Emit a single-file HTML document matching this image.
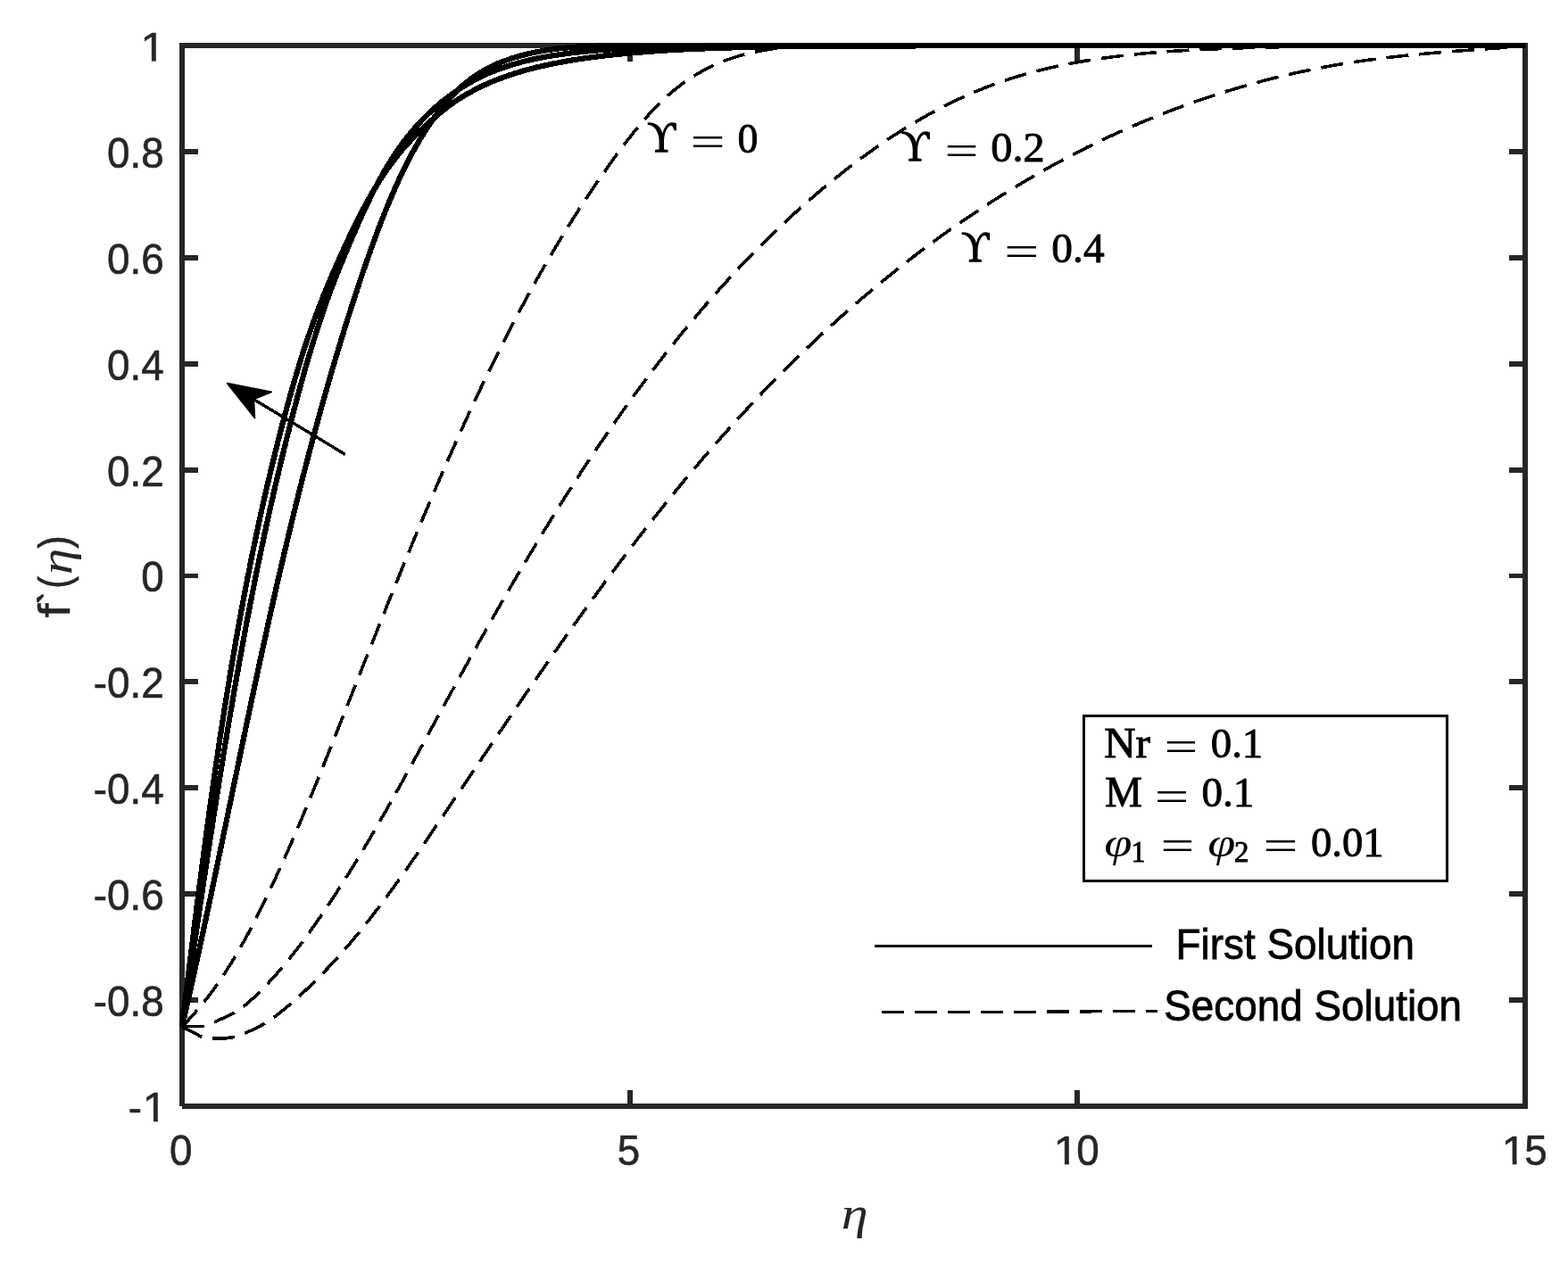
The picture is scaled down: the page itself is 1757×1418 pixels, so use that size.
<!DOCTYPE html>
<html lang="en"><head><meta charset="utf-8"><title>f'(η) versus η</title>
<style>html,body{margin:0;padding:0;background:#fff}body{width:1757px;height:1418px;overflow:hidden}svg{display:block}.tk{font-family:"Liberation Sans",sans-serif;font-size:45.83px;fill:#262626;stroke:#262626;stroke-width:.6px}.lg{font-family:"Liberation Sans",sans-serif;font-size:45.83px;fill:#000;stroke:#000;stroke-width:.8px}.tx{font-family:"Liberation Serif",serif;font-size:45px;fill:#000}.it{font-style:italic}</style></head><body>
<svg width="1757" height="1418" viewBox="0 0 1757 1418" role="img" aria-label="Plot of f prime of eta versus eta for first and second solutions">
<rect x="0" y="0" width="1757" height="1418" fill="#fff"/>
<g fill="#262626" shape-rendering="crispEdges">
<rect x="201" y="48" width="6" height="1192"/>
<rect x="1706" y="48" width="6" height="1195"/>
<rect x="201" y="48" width="1511" height="6"/>
<rect x="204" y="1237" width="1508" height="6"/>
<rect x="204" y="167" width="18" height="6"/>
<rect x="1691" y="167" width="18" height="6"/>
<rect x="204" y="286" width="18" height="6"/>
<rect x="1691" y="286" width="18" height="6"/>
<rect x="204" y="405" width="18" height="6"/>
<rect x="1691" y="405" width="18" height="6"/>
<rect x="204" y="524" width="18" height="6"/>
<rect x="1691" y="524" width="18" height="6"/>
<rect x="204" y="643" width="18" height="5"/>
<rect x="1691" y="643" width="18" height="5"/>
<rect x="204" y="761" width="18" height="6"/>
<rect x="1691" y="761" width="18" height="6"/>
<rect x="204" y="880" width="18" height="6"/>
<rect x="1691" y="880" width="18" height="6"/>
<rect x="204" y="999" width="18" height="6"/>
<rect x="1691" y="999" width="18" height="6"/>
<rect x="204" y="1118" width="18" height="6"/>
<rect x="1691" y="1118" width="18" height="6"/>
<rect x="703" y="51" width="6" height="18"/>
<rect x="703" y="1222" width="6" height="18"/>
<rect x="1204" y="51" width="6" height="18"/>
<rect x="1204" y="1222" width="6" height="18"/>
</g>
<g fill="none" stroke="#000" stroke-linejoin="round" shape-rendering="crispEdges">
<path stroke-width="3.6" stroke-dasharray="25 12" d="M204.0 1150.8L205.4 1149.4L206.8 1147.9L208.2 1146.5L209.6 1145.0L211.0 1143.6L212.3 1142.1L213.7 1140.6L215.0 1139.1L216.4 1137.7L217.7 1136.2L219.0 1134.7L220.3 1133.1L221.6 1131.6L222.9 1130.1L224.2 1128.6L225.4 1127.0L226.7 1125.5L227.9 1123.9L229.2 1122.4L230.4 1120.8L231.7 1119.2L232.9 1117.7L234.1 1116.1L235.3 1114.5L236.5 1112.9L237.7 1111.3L238.9 1109.7L240.0 1108.1L241.2 1106.5L242.3 1104.8L243.5 1103.2L244.6 1101.6L245.8 1099.9L246.9 1098.3L248.0 1096.6L249.1 1095.0L250.2 1093.3L251.3 1091.7L252.4 1090.0L253.5 1088.3L254.6 1086.6L255.7 1084.9L256.7 1083.3L257.8 1081.6L258.9 1079.9L259.9 1078.2L260.9 1076.5L262.0 1074.7L263.0 1073.0L264.0 1071.3L265.1 1069.6L266.1 1067.9L267.1 1066.1L268.1 1064.4L269.1 1062.7L270.1 1060.9L271.1 1059.2L272.0 1057.4L273.0 1055.7L274.0 1053.9L274.9 1052.2L275.9 1050.4L276.9 1048.7L277.8 1046.9L278.8 1045.1L279.7 1043.4L280.6 1041.6L281.6 1039.8L282.5 1038.0L283.4 1036.3L284.4 1034.5L285.3 1032.7L286.2 1030.9L287.1 1029.1L288.0 1027.3L288.9 1025.5L289.8 1023.7L290.7 1021.9L291.6 1020.1L292.5 1018.3L293.4 1016.5L294.3 1014.7L295.1 1012.9L296.0 1011.1L296.9 1009.3L297.8 1007.5L298.6 1005.7L299.5 1003.9L300.4 1002.1L301.2 1000.3L302.1 998.5L303.0 996.7L303.8 994.9L304.7 993.0L305.5 991.2L306.4 989.4L307.2 987.6L308.1 985.8L308.9 984.0L309.7 982.1L310.6 980.3L311.4 978.5L312.2 976.7L313.1 974.8L313.9 973.0L314.7 971.2L315.6 969.4L316.4 967.5L317.2 965.7L318.0 963.9L318.8 962.1L319.6 960.2L320.5 958.4L321.3 956.6L322.1 954.7L322.9 952.9L323.7 951.1L324.5 949.2L325.3 947.4L326.1 945.6L326.9 943.7L327.7 941.9L328.5 940.1L329.3 938.2L330.1 936.4L330.9 934.5L331.6 932.7L332.4 930.9L333.2 929.0L334.0 927.2L334.8 925.3L335.6 923.5L336.3 921.7L337.1 919.8L337.9 918.0L338.7 916.1L339.4 914.3L340.2 912.4L341.0 910.6L341.8 908.7L342.5 906.9L343.3 905.0L344.1 903.2L344.8 901.3L345.6 899.5L346.3 897.6L347.1 895.8L347.9 893.9L348.6 892.1L349.4 890.2L350.1 888.4L350.9 886.5L351.7 884.7L352.4 882.8L353.2 881.0L353.9 879.1L354.7 877.3L355.4 875.4L356.2 873.6L356.9 871.7L357.7 869.8L358.4 868.0L359.2 866.1L359.9 864.3L360.7 862.4L361.4 860.6L362.2 858.7L362.9 856.9L363.6 855.0L364.4 853.1L365.1 851.3L365.9 849.4L366.6 847.6L367.4 845.7L368.1 843.8L368.8 842.0L369.6 840.1L370.3 838.3L371.1 836.4L371.8 834.6L372.6 832.7L373.3 830.8L374.0 829.0L374.8 827.1L375.5 825.3L376.3 823.4L377.0 821.5L377.7 819.7L378.5 817.8L379.2 816.0L379.9 814.1L380.7 812.2L381.4 810.4L382.2 808.5L382.9 806.6L383.6 804.8L384.4 802.9L385.1 801.1L385.9 799.2L386.6 797.3L387.3 795.5L388.1 793.6L388.8 791.8L389.5 789.9L390.3 788.0L391.0 786.2L391.8 784.3L392.5 782.5L393.2 780.6L394.0 778.7L394.7 776.9L395.4 775.0L396.2 773.1L396.9 771.3L397.7 769.4L398.4 767.6L399.1 765.7L399.9 763.8L400.6 762.0L401.3 760.1L402.1 758.3L402.8 756.4L403.6 754.5L404.3 752.7L405.0 750.8L405.8 748.9L406.5 747.1L407.2 745.2L408.0 743.4L408.7 741.5L409.5 739.6L410.2 737.8L410.9 735.9L411.7 734.1L412.4 732.2L413.2 730.3L413.9 728.5L414.6 726.6L415.4 724.7L416.1 722.9L416.9 721.0L417.6 719.2L418.3 717.3L419.1 715.4L419.8 713.6L420.6 711.7L421.3 709.9L422.0 708.0L422.8 706.1L423.5 704.3L424.3 702.4L425.0 700.6L425.8 698.7L426.5 696.8L427.2 695.0L428.0 693.1L428.7 691.3L429.5 689.4L430.2 687.6L431.0 685.7L431.7 683.8L432.5 682.0L433.2 680.1L433.9 678.3L434.7 676.4L435.4 674.5L436.2 672.7L436.9 670.8L437.7 669.0L438.4 667.1L439.2 665.3L439.9 663.4L440.7 661.5L441.4 659.7L442.2 657.8L442.9 656.0L443.7 654.1L444.4 652.3L445.2 650.4L446.0 648.6L446.7 646.7L447.5 644.8L448.2 643.0L449.0 641.1L449.7 639.3L450.5 637.4L451.2 635.6L452.0 633.7L452.8 631.9L453.5 630.0L454.3 628.2L455.0 626.3L455.8 624.5L456.6 622.6L457.3 620.8L458.1 618.9L458.8 617.1L459.6 615.2L460.4 613.4L461.1 611.5L461.9 609.7L462.7 607.8L463.4 606.0L464.2 604.1L465.0 602.3L465.7 600.4L466.5 598.6L467.3 596.7L468.0 594.9L468.8 593.0L469.6 591.2L470.4 589.3L471.1 587.5L471.9 585.6L472.7 583.8L473.5 581.9L474.2 580.1L475.0 578.3L475.8 576.4L476.6 574.6L477.3 572.7L478.1 570.9L478.9 569.0L479.7 567.2L480.5 565.3L481.3 563.5L482.0 561.7L482.8 559.8L483.6 558.0L484.4 556.1L485.2 554.3L486.0 552.5L486.8 550.6L487.5 548.8L488.3 546.9L489.1 545.1L489.9 543.3L490.7 541.4L491.5 539.6L492.3 537.8L493.1 535.9L493.9 534.1L494.7 532.2L495.5 530.4L496.3 528.6L497.1 526.7L497.9 524.9L498.7 523.1L499.5 521.2L500.3 519.4L501.1 517.6L501.9 515.7L502.7 513.9L503.5 512.1L504.3 510.3L505.1 508.4L506.0 506.6L506.8 504.8L507.6 502.9L508.4 501.1L509.2 499.3L510.0 497.5L510.8 495.6L511.7 493.8L512.5 492.0L513.3 490.2L514.1 488.3L515.0 486.5L515.8 484.7L516.6 482.9L517.4 481.0L518.3 479.2L519.1 477.4L519.9 475.6L520.7 473.8L521.6 471.9L522.4 470.1L523.2 468.3L524.1 466.5L524.9 464.7L525.8 462.8L526.6 461.0L527.4 459.2L528.3 457.4L529.1 455.6L530.0 453.8L530.8 452.0L531.7 450.1L532.5 448.3L533.4 446.5L534.2 444.7L535.1 442.9L535.9 441.1L536.8 439.3L537.6 437.5L538.5 435.7L539.3 433.9L540.2 432.1L541.1 430.3L541.9 428.4L542.8 426.6L543.7 424.8L544.5 423.0L545.4 421.2L546.3 419.4L547.2 417.6L548.0 415.8L548.9 414.0L549.8 412.2L550.7 410.4L551.5 408.7L552.4 406.9L553.3 405.1L554.2 403.3L555.1 401.5L556.0 399.7L556.9 397.9L557.8 396.1L558.6 394.3L559.5 392.5L560.4 390.7L561.3 388.9L562.2 387.2L563.1 385.4L564.0 383.6L564.9 381.8L565.9 380.0L566.8 378.2L567.7 376.5L568.6 374.7L569.5 372.9L570.4 371.1L571.3 369.3L572.3 367.6L573.2 365.8L574.1 364.0L575.0 362.2L575.9 360.5L576.9 358.7L577.8 356.9L578.7 355.2L579.7 353.4L580.6 351.6L581.6 349.9L582.5 348.1L583.4 346.3L584.4 344.6L585.3 342.8L586.3 341.0L587.2 339.3L588.2 337.5L589.1 335.8L590.1 334.0L591.0 332.2L592.0 330.5L593.0 328.7L593.9 327.0L594.9 325.2L595.9 323.5L596.8 321.7L597.8 320.0L598.8 318.2L599.8 316.5L600.7 314.7L601.7 313.0L602.7 311.2L603.7 309.5L604.7 307.8L605.7 306.0L606.7 304.3L607.6 302.5L608.6 300.8L609.6 299.1L610.6 297.3L611.6 295.6L612.6 293.9L613.7 292.1L614.7 290.4L615.7 288.7L616.7 286.9L617.7 285.2L618.7 283.5L619.7 281.8L620.8 280.0L621.8 278.3L622.8 276.6L623.9 274.9L624.9 273.2L625.9 271.4L627.0 269.7L628.0 268.0L629.0 266.3L630.1 264.6L631.1 262.9L632.2 261.2L633.2 259.5L634.3 257.8L635.4 256.1L636.4 254.4L637.5 252.6L638.5 250.9L639.6 249.2L640.7 247.6L641.7 245.9L642.8 244.2L643.9 242.5L645.0 240.8L646.1 239.1L647.1 237.4L648.2 235.7L649.3 234.0L650.4 232.3L651.5 230.6L652.6 229.0L653.7 227.3L654.8 225.6L655.9 223.9L657.0 222.2L658.1 220.6L659.3 218.9L660.4 217.2L661.5 215.5L662.6 213.9L663.7 212.2L664.9 210.5L666.0 208.9L667.1 207.2L668.3 205.5L669.4 203.9L670.6 202.2L671.7 200.6L672.9 198.9L674.0 197.3L675.2 195.6L676.3 194.0L677.5 192.3L678.6 190.7L679.8 189.0L681.0 187.4L682.1 185.7L683.3 184.1L684.5 182.4L685.7 180.8L686.9 179.2L688.0 177.5L689.2 175.9L690.4 174.2L691.6 172.6L692.8 171.0L694.0 169.4L695.2 167.7L696.4 166.1L697.6 164.5L698.9 162.9L700.1 161.3L701.3 159.7L702.5 158.0L703.8 156.4L705.0 154.8L706.2 153.3L707.5 151.7L708.7 150.1L710.0 148.5L711.3 146.9L712.5 145.4L713.8 143.8L715.1 142.2L716.4 140.7L717.6 139.2L718.9 137.6L720.2 136.1L721.6 134.6L722.9 133.1L724.2 131.6L725.5 130.1L726.9 128.6L728.2 127.1L729.6 125.7L730.9 124.2L732.3 122.8L733.7 121.3L735.0 119.9L736.4 118.5L737.8 117.1L739.2 115.7L740.6 114.3L742.1 112.9L743.5 111.6L744.9 110.2L746.4 108.9L747.8 107.6L749.3 106.3L750.8 105.0L752.3 103.7L753.8 102.4L755.3 101.2L756.8 99.9L758.3 98.7L759.9 97.5L761.4 96.3L763.0 95.1L764.5 94.0L766.1 92.8L767.7 91.7L769.3 90.6L770.9 89.5L772.6 88.4L774.2 87.3L775.8 86.3L777.5 85.2L779.2 84.2L780.8 83.2L782.5 82.2L784.2 81.2L785.9 80.3L787.6 79.3L789.4 78.4L791.1 77.5L792.8 76.6L794.6 75.8L796.4 74.9L798.1 74.1L799.9 73.2L801.7 72.4L803.5 71.6L805.3 70.9L807.1 70.1L808.9 69.4L810.8 68.6L812.6 67.9L814.5 67.2L816.3 66.6L818.2 65.9L820.1 65.3L821.9 64.6L823.8 64.0L825.7 63.4L827.6 62.8L829.5 62.3L831.4 61.7L833.4 61.2L835.3 60.7L837.2 60.2L839.2 59.7L841.1 59.3L843.1 58.8L845.0 58.4L847.0 58.0L849.0 57.6L851.0 57.2L852.9 56.8L854.9 56.5L856.9 56.1L858.9 55.8L860.9 55.5L862.9 55.2L864.9 54.9L867.0 54.6L869.0 54.3L871.0 54.1L873.0 53.8L875.0 53.6L877.1 53.4L879.1 53.1L881.1 52.9L883.2 52.8L885.2 52.6L887.3 52.4L889.3 52.3L891.4 52.1L893.4 52.0L895.5 51.8L897.5 51.7L899.6 51.6L901.6 51.5L903.7 51.4L905.7 51.3L907.8 51.2L909.9 51.2L911.9 51.1L914.0 51.0L916.0 51.0L918.1 50.9L920.1 50.9L922.2 50.9L924.2 50.8L926.3 50.8L928.3 50.8L930.4 50.8L932.4 50.8L934.5 50.8L936.5 50.8L938.6 50.8L940.6 50.8L942.7 50.8L944.7 50.8L946.7 50.8L948.7 50.8L950.8 50.8L952.8 50.9L954.8 50.9L956.8 50.9L958.8 50.9L960.9 50.9L962.9 51.0L964.9 51.0L966.9 51.0L968.9 51.0L970.8 51.1L972.8 51.1L974.8 51.1L976.8 51.1L978.7 51.1L980.7 51.1L982.7 51.1L984.6 51.1L986.6 51.1L988.5 51.1L990.4 51.1L992.4 51.1L994.3 51.1L996.2 51.1L998.1 51.1L1000.0 51.0L1709.0 51.0"/>
<path stroke-width="3.6" stroke-dasharray="25 12" d="M204.0 1150.8L227.8 1150.4L239.6 1146.1L261.5 1136.0L263.2 1135.0L264.9 1133.9L266.5 1132.8L268.2 1131.7L269.8 1130.5L271.4 1129.3L273.0 1128.1L274.5 1126.9L276.1 1125.6L277.6 1124.3L279.1 1123.0L280.6 1121.7L282.1 1120.3L283.6 1119.0L285.1 1117.6L286.5 1116.2L288.0 1114.8L289.4 1113.4L290.9 1112.0L292.3 1110.5L293.7 1109.1L295.1 1107.7L296.5 1106.2L297.9 1104.8L299.3 1103.3L300.7 1101.9L302.0 1100.4L303.4 1098.9L304.8 1097.4L306.1 1095.9L307.4 1094.5L308.8 1093.0L310.1 1091.5L311.4 1090.0L312.8 1088.4L314.1 1086.9L315.4 1085.4L316.7 1083.9L318.0 1082.3L319.2 1080.8L320.5 1079.3L321.8 1077.7L323.1 1076.2L324.3 1074.6L325.6 1073.0L326.8 1071.5L328.1 1069.9L329.3 1068.3L330.5 1066.7L331.8 1065.2L333.0 1063.6L334.2 1062.0L335.4 1060.4L336.6 1058.8L337.8 1057.2L339.0 1055.6L340.2 1054.0L341.4 1052.4L342.6 1050.8L343.8 1049.1L345.0 1047.5L346.1 1045.9L347.3 1044.3L348.5 1042.6L349.6 1041.0L350.8 1039.4L351.9 1037.7L353.1 1036.1L354.2 1034.5L355.4 1032.8L356.5 1031.2L357.7 1029.5L358.8 1027.9L359.9 1026.2L361.1 1024.6L362.2 1022.9L363.3 1021.3L364.4 1019.6L365.5 1018.0L366.7 1016.3L367.8 1014.6L368.9 1013.0L370.0 1011.3L371.1 1009.7L372.2 1008.0L373.3 1006.3L374.4 1004.6L375.5 1003.0L376.6 1001.3L377.7 999.6L378.7 997.9L379.8 996.3L380.9 994.6L382.0 992.9L383.1 991.2L384.1 989.5L385.2 987.9L386.3 986.2L387.3 984.5L388.4 982.8L389.5 981.1L390.5 979.4L391.6 977.7L392.6 976.0L393.7 974.3L394.7 972.6L395.8 970.9L396.8 969.2L397.9 967.5L398.9 965.8L399.9 964.1L401.0 962.4L402.0 960.7L403.0 959.0L404.1 957.3L405.1 955.6L406.1 953.9L407.2 952.2L408.2 950.5L409.2 948.7L410.2 947.0L411.3 945.3L412.3 943.6L413.3 941.9L414.3 940.2L415.3 938.4L416.3 936.7L417.3 935.0L418.3 933.3L419.3 931.6L420.3 929.8L421.3 928.1L422.3 926.4L423.3 924.7L424.3 922.9L425.3 921.2L426.3 919.5L427.3 917.7L428.3 916.0L429.3 914.3L430.3 912.5L431.3 910.8L432.3 909.1L433.3 907.3L434.3 905.6L435.2 903.9L436.2 902.1L437.2 900.4L438.2 898.7L439.2 896.9L440.1 895.2L441.1 893.4L442.1 891.7L443.1 889.9L444.1 888.2L445.0 886.5L446.0 884.7L447.0 883.0L447.9 881.2L448.9 879.5L449.9 877.7L450.9 876.0L451.8 874.2L452.8 872.5L453.8 870.7L454.7 869.0L455.7 867.2L456.7 865.5L457.6 863.7L458.6 862.0L459.5 860.2L460.5 858.5L461.5 856.7L462.4 855.0L463.4 853.2L464.4 851.5L465.3 849.7L466.3 848.0L467.2 846.2L468.2 844.5L469.2 842.7L470.1 841.0L471.1 839.2L472.0 837.5L473.0 835.7L473.9 833.9L474.9 832.2L475.9 830.4L476.8 828.7L477.8 826.9L478.7 825.2L479.7 823.4L480.7 821.7L481.6 819.9L482.6 818.1L483.5 816.4L484.5 814.6L485.4 812.9L486.4 811.1L487.4 809.4L488.3 807.6L489.3 805.8L490.2 804.1L491.2 802.3L492.2 800.6L493.1 798.8L494.1 797.1L495.0 795.3L496.0 793.5L497.0 791.8L497.9 790.0L498.9 788.3L499.9 786.5L500.8 784.8L501.8 783.0L502.7 781.3L503.7 779.5L504.7 777.7L505.6 776.0L506.6 774.2L507.6 772.5L508.5 770.7L509.5 769.0L510.5 767.2L511.4 765.5L512.4 763.7L513.4 761.9L514.3 760.2L515.3 758.4L516.3 756.7L517.2 754.9L518.2 753.2L519.2 751.4L520.2 749.7L521.1 747.9L522.1 746.2L523.1 744.4L524.1 742.7L525.0 740.9L526.0 739.2L527.0 737.4L528.0 735.7L528.9 733.9L529.9 732.2L530.9 730.4L531.9 728.7L532.8 726.9L533.8 725.2L534.8 723.4L535.8 721.7L536.8 719.9L537.7 718.2L538.7 716.4L539.7 714.7L540.7 712.9L541.7 711.2L542.7 709.4L543.6 707.7L544.6 705.9L545.6 704.2L546.6 702.4L547.6 700.7L548.6 699.0L549.6 697.2L550.6 695.5L551.6 693.7L552.5 692.0L553.5 690.2L554.5 688.5L555.5 686.8L556.5 685.0L557.5 683.3L558.5 681.5L559.5 679.8L560.5 678.1L561.5 676.3L562.5 674.6L563.5 672.9L564.5 671.1L565.5 669.4L566.5 667.6L567.5 665.9L568.5 664.2L569.5 662.4L570.5 660.7L571.5 659.0L572.6 657.2L573.6 655.5L574.6 653.8L575.6 652.0L576.6 650.3L577.6 648.6L578.6 646.9L579.6 645.1L580.6 643.4L581.7 641.7L582.7 639.9L583.7 638.2L584.7 636.5L585.7 634.8L586.8 633.0L587.8 631.3L588.8 629.6L589.8 627.9L590.9 626.1L591.9 624.4L592.9 622.7L593.9 621.0L595.0 619.3L596.0 617.6L597.0 615.8L598.1 614.1L599.1 612.4L600.1 610.7L601.2 609.0L602.2 607.3L603.2 605.5L604.3 603.8L605.3 602.1L606.4 600.4L607.4 598.7L608.4 597.0L609.5 595.3L610.5 593.6L611.6 591.9L612.6 590.2L613.7 588.4L614.7 586.7L615.8 585.0L616.8 583.3L617.9 581.6L618.9 579.9L620.0 578.2L621.0 576.5L622.1 574.8L623.2 573.1L624.2 571.4L625.3 569.7L626.3 568.0L627.4 566.3L628.5 564.6L629.5 563.0L630.6 561.3L631.7 559.6L632.7 557.9L633.8 556.2L634.9 554.5L636.0 552.8L637.0 551.1L638.1 549.4L639.2 547.8L640.3 546.1L641.4 544.4L642.4 542.7L643.5 541.0L644.6 539.3L645.7 537.7L646.8 536.0L647.9 534.3L649.0 532.6L650.1 531.0L651.1 529.3L652.2 527.6L653.3 525.9L654.4 524.3L655.5 522.6L656.6 520.9L657.7 519.3L658.8 517.6L659.9 515.9L661.0 514.3L662.2 512.6L663.3 510.9L664.4 509.3L665.5 507.6L666.6 505.9L667.7 504.3L668.8 502.6L669.9 501.0L671.1 499.3L672.2 497.7L673.3 496.0L674.4 494.4L675.6 492.7L676.7 491.1L677.8 489.4L678.9 487.8L680.1 486.1L681.2 484.5L682.3 482.8L683.5 481.2L684.6 479.5L685.8 477.9L686.9 476.3L688.0 474.6L689.2 473.0L690.3 471.3L691.5 469.7L692.6 468.1L693.8 466.4L694.9 464.8L696.1 463.2L697.3 461.6L698.4 459.9L699.6 458.3L700.7 456.7L701.9 455.1L703.1 453.4L704.2 451.8L705.4 450.2L706.6 448.6L707.7 447.0L708.9 445.3L710.1 443.7L711.3 442.1L712.4 440.5L713.6 438.9L714.8 437.3L716.0 435.7L717.2 434.1L718.4 432.5L719.6 430.9L720.7 429.3L721.9 427.7L723.1 426.1L724.3 424.5L725.5 422.9L726.7 421.3L727.9 419.7L729.1 418.1L730.3 416.5L731.6 414.9L732.8 413.3L734.0 411.7L735.2 410.2L736.4 408.6L737.6 407.0L738.8 405.4L740.1 403.8L741.3 402.3L742.5 400.7L743.7 399.1L745.0 397.5L746.2 396.0L747.4 394.4L748.7 392.8L749.9 391.3L751.1 389.7L752.4 388.1L753.6 386.6L754.9 385.0L756.1 383.4L757.4 381.9L758.6 380.3L759.9 378.8L761.1 377.2L762.4 375.7L763.6 374.1L764.9 372.6L766.2 371.0L767.4 369.5L768.7 367.9L770.0 366.4L771.3 364.9L772.5 363.3L773.8 361.8L775.1 360.2L776.4 358.7L777.6 357.2L778.9 355.7L780.2 354.1L781.5 352.6L782.8 351.1L784.1 349.6L785.4 348.0L786.7 346.5L788.0 345.0L789.3 343.5L790.6 342.0L791.9 340.5L793.2 339.0L794.5 337.5L795.8 335.9L797.1 334.4L798.5 332.9L799.8 331.4L801.1 329.9L802.4 328.5L803.8 327.0L805.1 325.5L806.4 324.0L807.8 322.5L809.1 321.0L810.4 319.5L811.8 318.0L813.1 316.6L814.5 315.1L815.8 313.6L817.2 312.1L818.5 310.7L819.9 309.2L821.2 307.7L822.6 306.3L823.9 304.8L825.3 303.3L826.7 301.9L828.0 300.4L829.4 299.0L830.8 297.5L832.2 296.1L833.6 294.6L834.9 293.2L836.3 291.7L837.7 290.3L839.1 288.9L840.5 287.4L841.9 286.0L843.3 284.6L844.7 283.1L846.1 281.7L847.5 280.3L848.9 278.9L850.3 277.4L851.7 276.0L853.1 274.6L854.5 273.2L856.0 271.8L857.4 270.4L858.8 269.0L860.2 267.6L861.7 266.2L863.1 264.8L864.5 263.4L866.0 262.0L867.4 260.6L868.8 259.2L870.3 257.8L871.7 256.4L873.2 255.0L874.6 253.7L876.1 252.3L877.5 250.9L879.0 249.5L880.5 248.2L881.9 246.8L883.4 245.4L884.9 244.1L886.4 242.7L887.8 241.4L889.3 240.0L890.8 238.7L892.3 237.3L893.8 236.0L895.3 234.6L896.7 233.3L898.2 232.0L899.7 230.6L901.2 229.3L902.7 228.0L904.2 226.6L905.8 225.3L907.3 224.0L908.8 222.7L910.3 221.4L911.8 220.0L913.3 218.7L914.9 217.4L916.4 216.1L917.9 214.8L919.5 213.5L921.0 212.2L922.5 210.9L924.1 209.6L925.6 208.4L927.2 207.1L928.7 205.8L930.3 204.5L931.9 203.2L933.4 202.0L935.0 200.7L936.5 199.4L938.1 198.2L939.7 196.9L941.3 195.7L942.8 194.4L944.4 193.2L946.0 191.9L947.6 190.7L949.2 189.4L950.8 188.2L952.4 187.0L954.0 185.7L955.6 184.5L957.2 183.3L958.8 182.1L960.4 180.9L962.0 179.7L963.6 178.4L965.2 177.2L966.8 176.1L968.5 174.9L970.1 173.7L971.7 172.5L973.4 171.3L975.0 170.1L976.6 169.0L978.3 167.8L979.9 166.6L981.6 165.5L983.2 164.3L984.9 163.2L986.5 162.0L988.2 160.9L989.8 159.8L991.5 158.6L993.2 157.5L994.8 156.4L996.5 155.3L998.2 154.2L999.9 153.0L1001.5 151.9L1003.2 150.9L1004.9 149.8L1006.6 148.7L1008.3 147.6L1010.0 146.5L1011.7 145.5L1013.4 144.4L1015.1 143.3L1016.8 142.3L1018.5 141.2L1020.2 140.2L1021.9 139.2L1023.6 138.1L1025.4 137.1L1027.1 136.1L1028.8 135.1L1030.5 134.1L1032.3 133.1L1034.0 132.1L1035.7 131.1L1037.5 130.1L1039.2 129.1L1041.0 128.1L1042.7 127.2L1044.5 126.2L1046.2 125.3L1048.0 124.3L1049.7 123.4L1051.5 122.4L1053.3 121.5L1055.0 120.6L1056.8 119.7L1058.6 118.8L1060.4 117.9L1062.1 117.0L1063.9 116.1L1065.7 115.2L1067.5 114.3L1069.3 113.5L1071.1 112.6L1072.9 111.7L1074.7 110.9L1076.5 110.1L1078.3 109.2L1080.1 108.4L1081.9 107.6L1083.7 106.8L1085.5 106.0L1087.3 105.2L1089.2 104.4L1091.0 103.6L1092.8 102.8L1094.6 102.1L1096.5 101.3L1098.3 100.6L1100.2 99.8L1102.0 99.1L1103.8 98.3L1105.7 97.6L1107.5 96.9L1109.4 96.2L1111.2 95.5L1113.1 94.8L1115.0 94.1L1116.8 93.5L1118.7 92.8L1120.6 92.1L1122.4 91.5L1124.3 90.8L1126.2 90.2L1128.1 89.6L1130.0 89.0L1131.8 88.3L1133.7 87.7L1135.6 87.1L1137.5 86.6L1139.4 86.0L1141.3 85.4L1143.2 84.8L1145.1 84.3L1147.0 83.7L1148.9 83.2L1150.8 82.6L1152.7 82.1L1154.7 81.6L1156.6 81.1L1158.5 80.5L1160.4 80.0L1162.3 79.5L1164.3 79.1L1166.2 78.6L1168.1 78.1L1170.1 77.6L1172.0 77.2L1173.9 76.7L1175.9 76.2L1177.8 75.8L1179.7 75.4L1181.7 74.9L1183.6 74.5L1185.6 74.1L1187.5 73.7L1189.5 73.2L1191.4 72.8L1193.4 72.4L1195.3 72.1L1197.3 71.7L1199.3 71.3L1201.2 70.9L1203.2 70.5L1205.1 70.2L1207.1 69.8L1209.1 69.5L1211.1 69.1L1213.0 68.8L1215.0 68.4L1217.0 68.1L1218.9 67.8L1220.9 67.5L1222.9 67.2L1224.9 66.8L1226.9 66.5L1228.8 66.2L1230.8 65.9L1232.8 65.7L1234.8 65.4L1236.8 65.1L1238.8 64.8L1240.8 64.5L1242.7 64.3L1244.7 64.0L1246.7 63.8L1248.7 63.5L1250.7 63.3L1252.7 63.0L1254.7 62.8L1256.7 62.5L1258.7 62.3L1260.7 62.1L1262.7 61.8L1264.7 61.6L1266.7 61.4L1268.7 61.2L1270.7 61.0L1272.7 60.8L1274.7 60.6L1276.7 60.4L1278.7 60.2L1280.7 60.0L1282.7 59.8L1284.7 59.6L1286.8 59.5L1288.8 59.3L1290.8 59.1L1292.8 59.0L1294.8 58.8L1296.8 58.6L1298.8 58.5L1300.8 58.3L1302.8 58.2L1304.8 58.0L1306.9 57.9L1308.9 57.7L1310.9 57.6L1312.9 57.4L1314.9 57.3L1316.9 57.2L1318.9 57.1L1321.0 56.9L1323.0 56.8L1325.0 56.7L1327.0 56.6L1329.0 56.4L1331.0 56.3L1333.0 56.2L1335.0 56.1L1337.1 56.0L1339.1 55.9L1341.1 55.8L1343.1 55.7L1345.1 55.6L1347.1 55.5L1349.1 55.4L1351.1 55.3L1353.2 55.2L1355.2 55.1L1357.2 55.0L1359.2 55.0L1361.2 54.9L1363.2 54.8L1365.2 54.7L1367.2 54.6L1369.2 54.5L1371.2 54.5L1373.3 54.4L1375.3 54.3L1377.3 54.2L1379.3 54.2L1381.3 54.1L1383.3 54.0L1385.3 54.0L1387.3 53.9L1389.3 53.8L1391.3 53.8L1393.3 53.7L1395.3 53.6L1397.3 53.6L1399.3 53.5L1401.3 53.5L1403.3 53.4L1405.3 53.3L1407.3 53.3L1409.3 53.2L1411.3 53.2L1413.3 53.1L1415.3 53.1L1417.3 53.0L1419.3 53.0L1421.3 52.9L1423.3 52.9L1425.3 52.8L1427.3 52.8L1429.3 52.8L1431.3 52.7L1433.3 52.7L1435.3 52.6L1437.3 52.6L1439.3 52.6L1441.3 52.5L1443.2 52.5L1445.2 52.4L1447.2 52.4L1449.2 52.4L1451.2 52.3L1453.2 52.3L1455.2 52.3L1457.2 52.3L1459.2 52.2L1461.2 52.2L1463.2 52.2L1465.2 52.1L1467.2 52.1L1469.2 52.1L1471.1 52.1L1473.1 52.0L1475.1 52.0L1477.1 52.0L1479.1 52.0L1481.1 51.9L1483.1 51.9L1485.1 51.9L1487.1 51.9L1489.1 51.9L1491.1 51.9L1493.0 51.8L1495.0 51.8L1497.0 51.8L1499.0 51.8L1501.0 51.8L1503.0 51.8L1505.0 51.7L1507.0 51.7L1509.0 51.7L1511.0 51.7L1512.9 51.7L1514.9 51.7L1516.9 51.7L1518.9 51.7L1520.9 51.7L1522.9 51.6L1524.9 51.6L1526.9 51.6L1528.9 51.6L1530.8 51.6L1532.8 51.6L1534.8 51.6L1536.8 51.6L1538.8 51.6L1540.8 51.6L1542.8 51.6L1544.8 51.6L1546.8 51.6L1548.8 51.6L1550.8 51.6L1552.7 51.5L1554.7 51.5L1556.7 51.5L1558.7 51.5L1560.7 51.5L1562.7 51.5L1564.7 51.5L1566.7 51.5L1568.7 51.5L1570.7 51.5L1572.7 51.5L1574.7 51.5L1576.6 51.5L1578.6 51.5L1580.6 51.5L1582.6 51.5L1584.6 51.5L1586.6 51.5L1588.6 51.5L1590.6 51.5L1592.6 51.5L1594.6 51.5L1596.6 51.5L1598.6 51.5L1600.6 51.5L1602.6 51.5L1604.6 51.5L1606.6 51.5L1608.6 51.5L1610.6 51.5L1612.6 51.5L1614.6 51.5L1616.6 51.5L1618.6 51.5L1620.6 51.5L1622.6 51.5L1624.6 51.5L1626.6 51.5L1628.6 51.5L1630.6 51.5L1632.6 51.4L1634.6 51.4L1636.6 51.4L1638.6 51.4L1640.6 51.4L1642.6 51.4L1644.6 51.4L1646.6 51.4L1648.6 51.4L1650.6 51.4L1652.6 51.4L1654.6 51.4L1656.6 51.4L1658.6 51.4L1660.6 51.4L1662.6 51.3L1664.7 51.3L1666.7 51.3L1668.7 51.3L1670.7 51.3L1672.7 51.3L1674.7 51.3L1676.7 51.3L1678.7 51.3L1680.8 51.2L1682.8 51.2L1684.8 51.2L1686.8 51.2L1688.8 51.2L1690.8 51.2L1692.8 51.2L1694.9 51.1L1696.9 51.1L1698.9 51.1L1700.9 51.1L1702.9 51.1L1705.0 51.0L1707.0 51.0L1709.0 51.0"/>
<path stroke-width="3.6" stroke-dasharray="25 12" d="M204.0 1150.8L225.0 1161.8L238.1 1163.9L250.0 1164.2L261.8 1162.5L274.0 1158.3L275.9 1157.5L277.7 1156.7L279.6 1155.9L281.4 1155.1L283.2 1154.3L285.0 1153.4L286.8 1152.5L288.6 1151.6L290.4 1150.7L292.1 1149.7L293.9 1148.8L295.6 1147.8L297.3 1146.7L299.0 1145.7L300.7 1144.6L302.4 1143.5L304.0 1142.3L305.7 1141.2L307.3 1140.0L308.9 1138.8L310.5 1137.6L312.1 1136.4L313.7 1135.2L315.3 1133.9L316.9 1132.6L318.4 1131.4L320.0 1130.1L321.5 1128.8L323.1 1127.5L324.6 1126.2L326.1 1124.8L327.6 1123.5L329.1 1122.2L330.6 1120.9L332.1 1119.5L333.6 1118.2L335.1 1116.8L336.6 1115.5L338.1 1114.1L339.5 1112.8L341.0 1111.4L342.5 1110.0L343.9 1108.6L345.4 1107.3L346.8 1105.9L348.3 1104.5L349.7 1103.1L351.1 1101.7L352.5 1100.3L354.0 1098.9L355.4 1097.5L356.8 1096.1L358.2 1094.6L359.6 1093.2L361.0 1091.8L362.4 1090.3L363.7 1088.9L365.1 1087.5L366.5 1086.0L367.9 1084.6L369.2 1083.1L370.6 1081.7L371.9 1080.2L373.3 1078.7L374.6 1077.3L376.0 1075.8L377.3 1074.3L378.7 1072.8L380.0 1071.3L381.3 1069.9L382.6 1068.4L383.9 1066.9L385.3 1065.4L386.6 1063.9L387.9 1062.4L389.2 1060.9L390.5 1059.3L391.8 1057.8L393.1 1056.3L394.3 1054.8L395.6 1053.3L396.9 1051.7L398.2 1050.2L399.4 1048.7L400.7 1047.1L402.0 1045.6L403.2 1044.0L404.5 1042.5L405.7 1040.9L407.0 1039.4L408.2 1037.8L409.5 1036.3L410.7 1034.7L412.0 1033.1L413.2 1031.6L414.4 1030.0L415.6 1028.4L416.9 1026.9L418.1 1025.3L419.3 1023.7L420.5 1022.1L421.7 1020.5L422.9 1018.9L424.2 1017.4L425.4 1015.8L426.6 1014.2L427.8 1012.6L429.0 1011.0L430.2 1009.4L431.3 1007.8L432.5 1006.2L433.7 1004.6L434.9 1003.0L436.1 1001.3L437.3 999.7L438.4 998.1L439.6 996.5L440.8 994.9L442.0 993.3L443.1 991.6L444.3 990.0L445.5 988.4L446.6 986.8L447.8 985.1L449.0 983.5L450.1 981.9L451.3 980.2L452.4 978.6L453.6 977.0L454.7 975.3L455.9 973.7L457.0 972.1L458.2 970.4L459.3 968.8L460.5 967.1L461.6 965.5L462.8 963.8L463.9 962.2L465.0 960.6L466.2 958.9L467.3 957.3L468.4 955.6L469.6 954.0L470.7 952.3L471.9 950.6L473.0 949.0L474.1 947.3L475.2 945.7L476.4 944.0L477.5 942.4L478.6 940.7L479.8 939.1L480.9 937.4L482.0 935.7L483.1 934.1L484.3 932.4L485.4 930.8L486.5 929.1L487.7 927.5L488.8 925.8L489.9 924.1L491.0 922.5L492.2 920.8L493.3 919.2L494.4 917.5L495.5 915.8L496.6 914.2L497.8 912.5L498.9 910.9L500.0 909.2L501.1 907.5L502.3 905.9L503.4 904.2L504.5 902.6L505.6 900.9L506.8 899.2L507.9 897.6L509.0 895.9L510.1 894.2L511.2 892.6L512.4 890.9L513.5 889.3L514.6 887.6L515.7 885.9L516.9 884.3L518.0 882.6L519.1 881.0L520.2 879.3L521.3 877.6L522.5 876.0L523.6 874.3L524.7 872.6L525.8 871.0L527.0 869.3L528.1 867.7L529.2 866.0L530.3 864.3L531.4 862.7L532.6 861.0L533.7 859.4L534.8 857.7L535.9 856.0L537.1 854.4L538.2 852.7L539.3 851.1L540.4 849.4L541.5 847.7L542.7 846.1L543.8 844.4L544.9 842.8L546.0 841.1L547.2 839.4L548.3 837.8L549.4 836.1L550.5 834.5L551.7 832.8L552.8 831.1L553.9 829.5L555.0 827.8L556.2 826.2L557.3 824.5L558.4 822.8L559.5 821.2L560.7 819.5L561.8 817.9L562.9 816.2L564.0 814.6L565.2 812.9L566.3 811.2L567.4 809.6L568.6 807.9L569.7 806.3L570.8 804.6L571.9 803.0L573.1 801.3L574.2 799.7L575.3 798.0L576.5 796.3L577.6 794.7L578.7 793.0L579.8 791.4L581.0 789.7L582.1 788.1L583.2 786.4L584.4 784.8L585.5 783.1L586.6 781.5L587.8 779.8L588.9 778.2L590.0 776.5L591.2 774.9L592.3 773.2L593.4 771.6L594.6 769.9L595.7 768.3L596.9 766.6L598.0 765.0L599.1 763.3L600.3 761.7L601.4 760.0L602.6 758.4L603.7 756.7L604.8 755.1L606.0 753.4L607.1 751.8L608.3 750.2L609.4 748.5L610.5 746.9L611.7 745.2L612.8 743.6L614.0 741.9L615.1 740.3L616.3 738.7L617.4 737.0L618.6 735.4L619.7 733.7L620.9 732.1L622.0 730.5L623.2 728.8L624.3 727.2L625.5 725.5L626.6 723.9L627.8 722.3L628.9 720.6L630.1 719.0L631.2 717.4L632.4 715.7L633.5 714.1L634.7 712.5L635.8 710.8L637.0 709.2L638.2 707.6L639.3 705.9L640.5 704.3L641.6 702.7L642.8 701.1L644.0 699.4L645.1 697.8L646.3 696.2L647.4 694.5L648.6 692.9L649.8 691.3L650.9 689.7L652.1 688.1L653.3 686.4L654.4 684.8L655.6 683.2L656.8 681.6L658.0 679.9L659.1 678.3L660.3 676.7L661.5 675.1L662.7 673.5L663.8 671.9L665.0 670.2L666.2 668.6L667.4 667.0L668.5 665.4L669.7 663.8L670.9 662.2L672.1 660.6L673.3 658.9L674.5 657.3L675.6 655.7L676.8 654.1L678.0 652.5L679.2 650.9L680.4 649.3L681.6 647.7L682.8 646.1L684.0 644.5L685.1 642.9L686.3 641.3L687.5 639.7L688.7 638.1L689.9 636.5L691.1 634.9L692.3 633.3L693.5 631.7L694.7 630.1L695.9 628.5L697.1 626.9L698.3 625.3L699.5 623.7L700.7 622.1L701.9 620.5L703.2 618.9L704.4 617.3L705.6 615.8L706.8 614.2L708.0 612.6L709.2 611.0L710.4 609.4L711.6 607.8L712.9 606.2L714.1 604.7L715.3 603.1L716.5 601.5L717.7 599.9L719.0 598.3L720.2 596.8L721.4 595.2L722.6 593.6L723.9 592.0L725.1 590.5L726.3 588.9L727.6 587.3L728.8 585.7L730.0 584.2L731.3 582.6L732.5 581.0L733.7 579.5L735.0 577.9L736.2 576.3L737.4 574.8L738.7 573.2L739.9 571.7L741.2 570.1L742.4 568.5L743.7 567.0L744.9 565.4L746.2 563.9L747.4 562.3L748.7 560.8L749.9 559.2L751.2 557.7L752.4 556.1L753.7 554.6L755.0 553.0L756.2 551.5L757.5 549.9L758.8 548.4L760.0 546.8L761.3 545.3L762.6 543.8L763.8 542.2L765.1 540.7L766.4 539.1L767.6 537.6L768.9 536.1L770.2 534.5L771.5 533.0L772.8 531.5L774.0 529.9L775.3 528.4L776.6 526.9L777.9 525.4L779.2 523.8L780.5 522.3L781.8 520.8L783.1 519.3L784.4 517.7L785.6 516.2L786.9 514.7L788.2 513.2L789.5 511.7L790.8 510.2L792.1 508.6L793.5 507.1L794.8 505.6L796.1 504.1L797.4 502.6L798.7 501.1L800.0 499.6L801.3 498.1L802.6 496.6L804.0 495.1L805.3 493.6L806.6 492.1L807.9 490.6L809.2 489.1L810.6 487.6L811.9 486.1L813.2 484.6L814.6 483.1L815.9 481.6L817.2 480.2L818.6 478.7L819.9 477.2L821.2 475.7L822.6 474.2L823.9 472.7L825.3 471.3L826.6 469.8L828.0 468.3L829.3 466.8L830.7 465.4L832.0 463.9L833.4 462.4L834.7 460.9L836.1 459.5L837.5 458.0L838.8 456.5L840.2 455.1L841.6 453.6L842.9 452.2L844.3 450.7L845.7 449.3L847.0 447.8L848.4 446.3L849.8 444.9L851.2 443.4L852.6 442.0L853.9 440.5L855.3 439.1L856.7 437.7L858.1 436.2L859.5 434.8L860.9 433.3L862.3 431.9L863.7 430.5L865.1 429.0L866.5 427.6L867.9 426.2L869.3 424.7L870.7 423.3L872.1 421.9L873.5 420.4L874.9 419.0L876.3 417.6L877.8 416.2L879.2 414.8L880.6 413.4L882.0 411.9L883.4 410.5L884.9 409.1L886.3 407.7L887.7 406.3L889.1 404.9L890.6 403.5L892.0 402.1L893.4 400.7L894.9 399.3L896.3 397.9L897.8 396.5L899.2 395.1L900.7 393.7L902.1 392.3L903.5 390.9L905.0 389.5L906.4 388.2L907.9 386.8L909.4 385.4L910.8 384.0L912.3 382.6L913.7 381.3L915.2 379.9L916.7 378.5L918.1 377.1L919.6 375.8L921.1 374.4L922.5 373.1L924.0 371.7L925.5 370.3L927.0 369.0L928.4 367.6L929.9 366.3L931.4 364.9L932.9 363.6L934.4 362.2L935.9 360.9L937.4 359.5L938.8 358.2L940.3 356.8L941.8 355.5L943.3 354.2L944.8 352.8L946.3 351.5L947.8 350.2L949.3 348.8L950.8 347.5L952.4 346.2L953.9 344.9L955.4 343.6L956.9 342.2L958.4 340.9L959.9 339.6L961.4 338.3L963.0 337.0L964.5 335.7L966.0 334.4L967.5 333.1L969.1 331.8L970.6 330.5L972.1 329.2L973.7 327.9L975.2 326.6L976.7 325.3L978.3 324.0L979.8 322.7L981.3 321.4L982.9 320.2L984.4 318.9L986.0 317.6L987.5 316.3L989.1 315.1L990.6 313.8L992.2 312.5L993.7 311.3L995.3 310.0L996.9 308.7L998.4 307.5L1000.0 306.2L1001.6 305.0L1003.1 303.7L1004.7 302.5L1006.3 301.2L1007.8 300.0L1009.4 298.7L1011.0 297.5L1012.6 296.3L1014.1 295.0L1015.7 293.8L1017.3 292.6L1018.9 291.3L1020.5 290.1L1022.1 288.9L1023.7 287.7L1025.2 286.4L1026.8 285.2L1028.4 284.0L1030.0 282.8L1031.6 281.6L1033.2 280.4L1034.8 279.2L1036.4 278.0L1038.0 276.8L1039.6 275.6L1041.3 274.4L1042.9 273.2L1044.5 272.0L1046.1 270.8L1047.7 269.7L1049.3 268.5L1050.9 267.3L1052.6 266.1L1054.2 264.9L1055.8 263.8L1057.4 262.6L1059.1 261.4L1060.7 260.3L1062.3 259.1L1064.0 258.0L1065.6 256.8L1067.2 255.7L1068.9 254.5L1070.5 253.4L1072.2 252.2L1073.8 251.1L1075.4 249.9L1077.1 248.8L1078.7 247.7L1080.4 246.5L1082.0 245.4L1083.7 244.3L1085.4 243.2L1087.0 242.0L1088.7 240.9L1090.3 239.8L1092.0 238.7L1093.7 237.6L1095.3 236.5L1097.0 235.4L1098.7 234.3L1100.3 233.2L1102.0 232.1L1103.7 231.0L1105.4 229.9L1107.0 228.8L1108.7 227.7L1110.4 226.6L1112.1 225.6L1113.8 224.5L1115.4 223.4L1117.1 222.3L1118.8 221.3L1120.5 220.2L1122.2 219.1L1123.9 218.1L1125.6 217.0L1127.3 216.0L1129.0 214.9L1130.7 213.9L1132.4 212.8L1134.1 211.8L1135.8 210.7L1137.5 209.7L1139.2 208.7L1140.9 207.6L1142.7 206.6L1144.4 205.6L1146.1 204.6L1147.8 203.6L1149.5 202.5L1151.3 201.5L1153.0 200.5L1154.7 199.5L1156.4 198.5L1158.2 197.5L1159.9 196.5L1161.6 195.5L1163.4 194.5L1165.1 193.5L1166.8 192.5L1168.6 191.6L1170.3 190.6L1172.1 189.6L1173.8 188.6L1175.5 187.7L1177.3 186.7L1179.0 185.7L1180.8 184.8L1182.5 183.8L1184.3 182.9L1186.1 181.9L1187.8 181.0L1189.6 180.0L1191.3 179.1L1193.1 178.1L1194.9 177.2L1196.6 176.3L1198.4 175.3L1200.2 174.4L1201.9 173.5L1203.7 172.6L1205.5 171.7L1207.3 170.8L1209.0 169.8L1210.8 168.9L1212.6 168.0L1214.4 167.1L1216.2 166.2L1217.9 165.3L1219.7 164.5L1221.5 163.6L1223.3 162.7L1225.1 161.8L1226.9 160.9L1228.7 160.1L1230.5 159.2L1232.3 158.3L1234.1 157.5L1235.9 156.6L1237.7 155.7L1239.5 154.9L1241.3 154.0L1243.1 153.2L1244.9 152.3L1246.7 151.5L1248.5 150.7L1250.4 149.8L1252.2 149.0L1254.0 148.2L1255.8 147.4L1257.6 146.5L1259.5 145.7L1261.3 144.9L1263.1 144.1L1264.9 143.3L1266.8 142.5L1268.6 141.7L1270.4 140.9L1272.3 140.1L1274.1 139.3L1275.9 138.5L1277.8 137.7L1279.6 137.0L1281.5 136.2L1283.3 135.4L1285.2 134.7L1287.0 133.9L1288.9 133.1L1290.7 132.4L1292.6 131.6L1294.4 130.9L1296.3 130.1L1298.1 129.4L1300.0 128.6L1301.8 127.9L1303.7 127.2L1305.6 126.5L1307.4 125.7L1309.3 125.0L1311.2 124.3L1313.0 123.6L1314.9 122.9L1316.8 122.2L1318.6 121.5L1320.5 120.8L1322.4 120.1L1324.3 119.4L1326.1 118.7L1328.0 118.0L1329.9 117.3L1331.8 116.6L1333.7 116.0L1335.5 115.3L1337.4 114.6L1339.3 114.0L1341.2 113.3L1343.1 112.7L1345.0 112.0L1346.9 111.4L1348.8 110.7L1350.7 110.1L1352.6 109.4L1354.5 108.8L1356.4 108.2L1358.3 107.5L1360.2 106.9L1362.1 106.3L1364.0 105.7L1365.9 105.1L1367.8 104.5L1369.7 103.9L1371.6 103.3L1373.5 102.7L1375.4 102.1L1377.3 101.5L1379.2 100.9L1381.2 100.3L1383.1 99.8L1385.0 99.2L1386.9 98.6L1388.8 98.0L1390.7 97.5L1392.7 96.9L1394.6 96.4L1396.5 95.8L1398.4 95.3L1400.4 94.7L1402.3 94.2L1404.2 93.7L1406.2 93.1L1408.1 92.6L1410.0 92.1L1411.9 91.6L1413.9 91.1L1415.8 90.5L1417.7 90.0L1419.7 89.5L1421.6 89.0L1423.6 88.5L1425.5 88.1L1427.4 87.6L1429.4 87.1L1431.3 86.6L1433.3 86.1L1435.2 85.7L1437.2 85.2L1439.1 84.7L1441.1 84.3L1443.0 83.8L1445.0 83.4L1446.9 82.9L1448.9 82.5L1450.8 82.0L1452.8 81.6L1454.7 81.2L1456.7 80.7L1458.6 80.3L1460.6 79.9L1462.6 79.5L1464.5 79.1L1466.5 78.7L1468.4 78.3L1470.4 77.9L1472.4 77.5L1474.3 77.1L1476.3 76.7L1478.3 76.3L1480.2 75.9L1482.2 75.6L1484.2 75.2L1486.1 74.8L1488.1 74.5L1490.1 74.1L1492.0 73.7L1494.0 73.4L1496.0 73.1L1497.9 72.7L1499.9 72.4L1501.9 72.0L1503.9 71.7L1505.9 71.4L1507.8 71.1L1509.8 70.8L1511.8 70.4L1513.8 70.1L1515.7 69.8L1517.7 69.5L1519.7 69.2L1521.7 68.9L1523.7 68.6L1525.7 68.4L1527.6 68.1L1529.6 67.8L1531.6 67.5L1533.6 67.3L1535.6 67.0L1537.6 66.7L1539.6 66.5L1541.5 66.2L1543.5 66.0L1545.5 65.7L1547.5 65.5L1549.5 65.2L1551.5 65.0L1553.5 64.7L1555.5 64.5L1557.5 64.3L1559.4 64.0L1561.4 63.8L1563.4 63.6L1565.4 63.4L1567.4 63.1L1569.4 62.9L1571.4 62.7L1573.4 62.5L1575.4 62.3L1577.4 62.1L1579.4 61.9L1581.4 61.7L1583.4 61.5L1585.4 61.3L1587.4 61.1L1589.4 60.9L1591.4 60.7L1593.4 60.5L1595.4 60.4L1597.3 60.2L1599.3 60.0L1601.3 59.8L1603.3 59.6L1605.3 59.5L1607.3 59.3L1609.3 59.1L1611.3 58.9L1613.3 58.8L1615.3 58.6L1617.3 58.4L1619.3 58.3L1621.3 58.1L1623.3 58.0L1625.3 57.8L1627.3 57.6L1629.3 57.5L1631.3 57.3L1633.3 57.2L1635.3 57.0L1637.3 56.9L1639.3 56.7L1641.3 56.6L1643.3 56.4L1645.3 56.3L1647.3 56.1L1649.3 56.0L1651.3 55.8L1653.3 55.7L1655.3 55.5L1657.3 55.4L1659.2 55.3L1661.2 55.1L1663.2 55.0L1665.2 54.8L1667.2 54.7L1669.2 54.6L1671.2 54.4L1673.2 54.3L1675.2 54.1L1677.2 54.0L1679.2 53.9L1681.2 53.7L1683.2 53.6L1685.1 53.4L1687.1 53.3L1689.1 53.2L1691.1 53.0L1693.1 52.9L1695.1 52.8L1697.1 52.6L1699.1 52.5L1701.1 52.3L1703.0 52.2L1705.0 52.0L1707.0 51.9L1709.0 51.8"/>
<path stroke-width="6.2" d="M204.0 1150.8L204.2 1148.8L204.5 1146.8L204.7 1144.8L205.0 1142.9L205.2 1140.9L205.4 1138.9L205.7 1136.9L205.9 1134.9L206.2 1132.9L206.4 1130.9L206.7 1129.0L206.9 1127.0L207.1 1125.0L207.4 1123.0L207.6 1121.0L207.9 1119.0L208.1 1117.0L208.3 1115.0L208.6 1113.1L208.8 1111.1L209.1 1109.1L209.3 1107.1L209.6 1105.1L209.8 1103.1L210.0 1101.1L210.3 1099.2L210.5 1097.2L210.8 1095.2L211.0 1093.2L211.3 1091.2L211.5 1089.2L211.7 1087.2L212.0 1085.2L212.2 1083.3L212.5 1081.3L212.7 1079.3L213.0 1077.3L213.2 1075.3L213.5 1073.3L213.7 1071.3L213.9 1069.4L214.2 1067.4L214.4 1065.4L214.7 1063.4L214.9 1061.4L215.2 1059.4L215.4 1057.4L215.7 1055.4L215.9 1053.5L216.2 1051.5L216.4 1049.5L216.7 1047.5L216.9 1045.5L217.2 1043.5L217.4 1041.5L217.6 1039.6L217.9 1037.6L218.1 1035.6L218.4 1033.6L218.6 1031.6L218.9 1029.6L219.1 1027.6L219.4 1025.6L219.6 1023.7L219.9 1021.7L220.1 1019.7L220.4 1017.7L220.6 1015.7L220.9 1013.7L221.2 1011.7L221.4 1009.8L221.7 1007.8L221.9 1005.8L222.2 1003.8L222.4 1001.8L222.7 999.8L222.9 997.8L223.2 995.9L223.4 993.9L223.7 991.9L223.9 989.9L224.2 987.9L224.5 985.9L224.7 983.9L225.0 982.0L225.2 980.0L225.5 978.0L225.7 976.0L226.0 974.0L226.3 972.0L226.5 970.0L226.8 968.1L227.0 966.1L227.3 964.1L227.6 962.1L227.8 960.1L228.1 958.1L228.4 956.2L228.6 954.2L228.9 952.2L229.1 950.2L229.4 948.2L229.7 946.2L229.9 944.2L230.2 942.3L230.5 940.3L230.7 938.3L231.0 936.3L231.3 934.3L231.5 932.3L231.8 930.4L232.1 928.4L232.3 926.4L232.6 924.4L232.9 922.4L233.2 920.4L233.4 918.5L233.7 916.5L234.0 914.5L234.2 912.5L234.5 910.5L234.8 908.5L235.1 906.6L235.3 904.6L235.6 902.6L235.9 900.6L236.2 898.6L236.4 896.6L236.7 894.7L237.0 892.7L237.3 890.7L237.6 888.7L237.8 886.7L238.1 884.7L238.4 882.8L238.7 880.8L239.0 878.8L239.3 876.8L239.5 874.8L239.8 872.9L240.1 870.9L240.4 868.9L240.7 866.9L241.0 864.9L241.3 862.9L241.5 861.0L241.8 859.0L242.1 857.0L242.4 855.0L242.7 853.0L243.0 851.1L243.3 849.1L243.6 847.1L243.9 845.1L244.2 843.1L244.5 841.2L244.8 839.2L245.1 837.2L245.4 835.2L245.6 833.2L245.9 831.3L246.2 829.3L246.5 827.3L246.8 825.3L247.1 823.4L247.5 821.4L247.8 819.4L248.1 817.4L248.4 815.4L248.7 813.5L249.0 811.5L249.3 809.5L249.6 807.5L249.9 805.5L250.2 803.6L250.5 801.6L250.8 799.6L251.1 797.6L251.4 795.7L251.8 793.7L252.1 791.7L252.4 789.7L252.7 787.8L253.0 785.8L253.3 783.8L253.7 781.8L254.0 779.9L254.3 777.9L254.6 775.9L254.9 773.9L255.3 771.9L255.6 770.0L255.9 768.0L256.2 766.0L256.6 764.0L256.9 762.1L257.2 760.1L257.5 758.1L257.9 756.2L258.2 754.2L258.5 752.2L258.9 750.2L259.2 748.3L259.5 746.3L259.9 744.3L260.2 742.3L260.5 740.4L260.9 738.4L261.2 736.4L261.5 734.4L261.9 732.5L262.2 730.5L262.6 728.5L262.9 726.6L263.2 724.6L263.6 722.6L263.9 720.6L264.3 718.7L264.6 716.7L265.0 714.7L265.3 712.8L265.7 710.8L266.0 708.8L266.4 706.8L266.7 704.9L267.1 702.9L267.4 700.9L267.8 699.0L268.2 697.0L268.5 695.0L268.9 693.1L269.2 691.1L269.6 689.1L270.0 687.2L270.3 685.2L270.7 683.2L271.0 681.3L271.4 679.3L271.8 677.3L272.2 675.4L272.5 673.4L272.9 671.4L273.3 669.5L273.6 667.5L274.0 665.5L274.4 663.6L274.8 661.6L275.1 659.6L275.5 657.7L275.9 655.7L276.3 653.7L276.7 651.8L277.0 649.8L277.4 647.8L277.8 645.9L278.2 643.9L278.6 641.9L279.0 640.0L279.4 638.0L279.8 636.0L280.1 634.1L280.5 632.1L280.9 630.2L281.3 628.2L281.7 626.2L282.1 624.3L282.5 622.3L282.9 620.4L283.3 618.4L283.7 616.4L284.1 614.5L284.5 612.5L284.9 610.5L285.4 608.6L285.8 606.6L286.2 604.7L286.6 602.7L287.0 600.8L287.4 598.8L287.8 596.8L288.2 594.9L288.7 592.9L289.1 591.0L289.5 589.0L289.9 587.0L290.3 585.1L290.8 583.1L291.2 581.2L291.6 579.2L292.0 577.3L292.5 575.3L292.9 573.4L293.3 571.4L293.8 569.4L294.2 567.5L294.6 565.5L295.1 563.6L295.5 561.6L296.0 559.7L296.4 557.7L296.9 555.8L297.3 553.8L297.7 551.9L298.2 549.9L298.6 548.0L299.1 546.0L299.5 544.1L300.0 542.1L300.5 540.2L300.9 538.2L301.4 536.3L301.8 534.3L302.3 532.4L302.8 530.4L303.2 528.5L303.7 526.5L304.2 524.6L304.6 522.6L305.1 520.7L305.6 518.8L306.0 516.8L306.5 514.9L307.0 512.9L307.5 511.0L307.9 509.0L308.4 507.1L308.9 505.1L309.4 503.2L309.9 501.3L310.4 499.3L310.9 497.4L311.3 495.4L311.8 493.5L312.3 491.6L312.8 489.6L313.3 487.7L313.8 485.7L314.3 483.8L314.8 481.9L315.3 479.9L315.8 478.0L316.3 476.0L316.8 474.1L317.4 472.2L317.9 470.2L318.4 468.3L318.9 466.4L319.4 464.4L319.9 462.5L320.5 460.6L321.0 458.6L321.5 456.7L322.0 454.8L322.6 452.8L323.1 450.9L323.6 449.0L324.1 447.0L324.7 445.1L325.2 443.2L325.8 441.3L326.3 439.3L326.8 437.4L327.4 435.5L327.9 433.6L328.5 431.6L329.1 429.7L329.6 427.8L330.2 425.9L330.7 423.9L331.3 422.0L331.9 420.1L332.4 418.2L333.0 416.3L333.6 414.3L334.2 412.4L334.8 410.5L335.3 408.6L335.9 406.7L336.5 404.8L337.1 402.9L337.7 401.0L338.3 399.1L338.9 397.2L339.5 395.2L340.1 393.3L340.8 391.4L341.4 389.5L342.0 387.6L342.6 385.7L343.3 383.8L343.9 381.9L344.5 380.1L345.2 378.2L345.8 376.3L346.5 374.4L347.1 372.5L347.8 370.6L348.4 368.7L349.1 366.8L349.8 364.9L350.5 363.1L351.1 361.2L351.8 359.3L352.5 357.4L353.2 355.6L353.9 353.7L354.6 351.8L355.3 349.9L356.0 348.1L356.7 346.2L357.4 344.3L358.2 342.5L358.9 340.6L359.6 338.7L360.3 336.9L361.1 335.0L361.8 333.2L362.5 331.3L363.3 329.5L364.0 327.6L364.8 325.8L365.6 323.9L366.3 322.1L367.1 320.2L367.9 318.4L368.6 316.5L369.4 314.7L370.2 312.8L371.0 311.0L371.7 309.2L372.5 307.3L373.3 305.5L374.1 303.6L374.9 301.8L375.7 300.0L376.5 298.1L377.3 296.3L378.1 294.5L379.0 292.7L379.8 290.8L380.6 289.0L381.4 287.2L382.3 285.4L383.1 283.5L383.9 281.7L384.8 279.9L385.6 278.1L386.4 276.3L387.3 274.4L388.1 272.6L389.0 270.8L389.8 269.0L390.7 267.2L391.5 265.4L392.4 263.6L393.3 261.8L394.1 259.9L395.0 258.1L395.9 256.3L396.8 254.5L397.6 252.7L398.5 250.9L399.4 249.1L400.3 247.4L401.2 245.6L402.1 243.8L403.0 242.0L403.9 240.2L404.9 238.4L405.8 236.7L406.7 234.9L407.7 233.1L408.6 231.4L409.6 229.6L410.5 227.8L411.5 226.1L412.4 224.3L413.4 222.6L414.4 220.9L415.4 219.1L416.4 217.4L417.4 215.7L418.4 213.9L419.4 212.2L420.4 210.5L421.5 208.8L422.5 207.1L423.6 205.4L424.6 203.7L425.7 202.0L426.8 200.4L427.9 198.7L429.0 197.0L430.1 195.4L431.2 193.7L432.3 192.1L433.4 190.4L434.6 188.8L435.7 187.2L436.9 185.6L438.1 183.9L439.3 182.3L440.5 180.8L441.7 179.2L442.9 177.6L444.1 176.0L445.4 174.4L446.6 172.9L447.9 171.3L449.2 169.8L450.4 168.3L451.7 166.8L453.1 165.2L454.4 163.7L455.7 162.2L457.1 160.7L458.4 159.3L459.8 157.8L461.1 156.3L462.5 154.9L463.9 153.4L465.3 152.0L466.7 150.6L468.2 149.1L469.6 147.7L471.0 146.3L472.5 144.9L473.9 143.5L475.4 142.1L476.9 140.8L478.4 139.4L479.8 138.0L481.3 136.7L482.8 135.3L484.4 134.0L485.9 132.7L487.4 131.4L488.9 130.0L490.5 128.7L492.0 127.4L493.5 126.2L495.1 124.9L496.7 123.6L498.2 122.4L499.8 121.2L501.4 119.9L503.0 118.7L504.6 117.5L506.2 116.4L507.9 115.2L509.5 114.1L511.2 113.0L512.8 111.9L514.5 110.8L516.2 109.7L517.9 108.6L519.6 107.6L521.3 106.6L523.0 105.6L524.7 104.6L526.4 103.6L528.2 102.7L529.9 101.7L531.7 100.8L533.5 99.9L535.2 99.0L537.0 98.1L538.8 97.2L540.6 96.4L542.4 95.5L544.2 94.7L546.0 93.9L547.8 93.1L549.7 92.3L551.5 91.5L553.4 90.8L555.2 90.0L557.1 89.3L558.9 88.6L560.8 87.9L562.7 87.2L564.5 86.5L566.4 85.8L568.3 85.2L570.2 84.5L572.1 83.9L574.0 83.3L575.9 82.6L577.8 82.0L579.7 81.4L581.6 80.9L583.5 80.3L585.5 79.7L587.4 79.2L589.3 78.6L591.2 78.1L593.2 77.6L595.1 77.1L597.1 76.6L599.0 76.1L600.9 75.6L602.9 75.1L604.8 74.7L606.8 74.2L608.7 73.8L610.7 73.3L612.7 72.9L614.6 72.5L616.6 72.1L618.5 71.6L620.5 71.2L622.5 70.9L624.5 70.5L626.4 70.1L628.4 69.7L630.4 69.4L632.3 69.0L634.3 68.7L636.3 68.3L638.3 68.0L640.3 67.7L642.2 67.3L644.2 67.0L646.2 66.7L648.2 66.4L650.2 66.1L652.2 65.8L654.2 65.5L656.2 65.2L658.1 65.0L660.1 64.7L662.1 64.4L664.1 64.1L666.1 63.9L668.1 63.6L670.1 63.4L672.1 63.1L674.1 62.9L676.1 62.7L678.0 62.4L680.0 62.2L682.0 62.0L684.0 61.7L686.0 61.5L688.0 61.3L690.0 61.1L692.0 60.9L694.0 60.7L696.0 60.5L698.0 60.3L700.0 60.1L702.0 59.9L703.9 59.7L705.9 59.5L707.9 59.4L709.9 59.2L711.9 59.0L713.9 58.8L715.9 58.7L717.9 58.5L719.9 58.4L721.9 58.2L723.9 58.0L725.9 57.9L727.9 57.7L729.9 57.6L731.9 57.5L733.9 57.3L735.8 57.2L737.8 57.0L739.8 56.9L741.8 56.8L743.8 56.7L745.8 56.5L747.8 56.4L749.8 56.3L751.8 56.2L753.8 56.1L755.8 56.0L757.8 55.9L759.8 55.7L761.8 55.6L763.8 55.5L765.8 55.4L767.8 55.3L769.8 55.2L771.8 55.2L773.8 55.1L775.8 55.0L777.8 54.9L779.8 54.8L781.8 54.7L783.8 54.6L785.8 54.5L787.8 54.5L789.7 54.4L791.7 54.3L793.7 54.2L795.7 54.2L797.7 54.1L799.7 54.0L801.7 53.9L803.7 53.9L805.7 53.8L807.7 53.7L809.7 53.7L811.7 53.6L813.7 53.6L815.7 53.5L817.7 53.4L819.7 53.4L821.7 53.3L823.7 53.3L825.7 53.2L827.7 53.2L829.7 53.1L831.7 53.1L833.7 53.0L835.7 53.0L837.7 52.9L839.7 52.9L841.7 52.8L843.7 52.8L845.7 52.7L847.7 52.7L849.7 52.6L851.7 52.6L853.7 52.6L855.7 52.5L857.7 52.5L859.7 52.4L861.7 52.4L863.8 52.4L865.8 52.3L867.8 52.3L869.8 52.3L871.8 52.2L873.8 52.2L875.8 52.2L877.8 52.1L879.8 52.1L881.8 52.1L883.8 52.1L885.8 52.0L887.8 52.0L889.8 52.0L891.8 52.0L893.8 51.9L895.8 51.9L897.8 51.9L899.8 51.9L901.8 51.8L903.8 51.8L905.8 51.8L907.8 51.8L909.8 51.8L911.8 51.8L913.8 51.7L915.8 51.7L917.8 51.7L919.8 51.7L921.8 51.7L923.8 51.7L925.8 51.6L927.8 51.6L929.8 51.6L931.8 51.6L933.8 51.6L935.8 51.6L937.8 51.6L939.9 51.6L941.9 51.6L943.9 51.5L945.9 51.5L947.9 51.5L949.9 51.5L951.9 51.5L953.9 51.5L955.9 51.5L957.9 51.5L959.9 51.5L961.9 51.5L963.9 51.5L965.9 51.5L967.9 51.5L969.9 51.5L971.9 51.5L973.9 51.4L975.9 51.4L977.9 51.4L979.9 51.4L981.9 51.4L983.9 51.4L985.9 51.4L987.9 51.4L989.9 51.4L991.9 51.4L993.9 51.4L995.9 51.4L997.9 51.4L999.9 51.4L1001.9 51.4L1004.0 51.4L1006.0 51.4L1008.0 51.4L1010.0 51.4L1012.0 51.4L1014.0 51.4L1016.0 51.4L1018.0 51.4L1020.0 51.4L1022.0 51.4L1024.0 51.4L1026.0 51.4L1028.0 51.3L1030.0 51.3L1032.0 51.3L1034.0 51.3L1036.0 51.3L1038.0 51.3L1040.0 51.3L1042.0 51.3L1044.0 51.3L1046.0 51.3L1048.0 51.3L1050.0 51.3L1052.0 51.3L1054.0 51.3L1056.0 51.3L1058.0 51.3L1060.0 51.3L1062.0 51.2L1064.0 51.2L1066.0 51.2L1068.0 51.2L1070.0 51.2L1072.0 51.2L1074.0 51.2L1076.0 51.2L1078.0 51.2L1080.0 51.1L1082.0 51.1L1084.0 51.1L1086.0 51.1L1088.0 51.1L1090.0 51.1L1092.0 51.1L1094.0 51.0L1096.0 51.0L1098.0 51.0L1100.0 51.0L1709.0 51.0"/>
<path stroke-width="6.2" d="M204.0 1150.8L204.3 1148.8L204.6 1146.8L204.9 1144.9L205.2 1142.9L205.5 1140.9L205.8 1138.9L206.1 1137.0L206.4 1135.0L206.7 1133.0L207.0 1131.0L207.3 1129.0L207.6 1127.1L207.9 1125.1L208.2 1123.1L208.5 1121.1L208.8 1119.1L209.0 1117.2L209.3 1115.2L209.6 1113.2L209.9 1111.2L210.2 1109.2L210.5 1107.3L210.8 1105.3L211.1 1103.3L211.4 1101.3L211.7 1099.4L212.0 1097.4L212.3 1095.4L212.6 1093.4L212.9 1091.4L213.2 1089.5L213.5 1087.5L213.8 1085.5L214.1 1083.5L214.4 1081.5L214.6 1079.6L214.9 1077.6L215.2 1075.6L215.5 1073.6L215.8 1071.6L216.1 1069.7L216.4 1067.7L216.7 1065.7L217.0 1063.7L217.3 1061.7L217.6 1059.8L217.9 1057.8L218.2 1055.8L218.5 1053.8L218.8 1051.8L219.1 1049.9L219.4 1047.9L219.7 1045.9L219.9 1043.9L220.2 1041.9L220.5 1040.0L220.8 1038.0L221.1 1036.0L221.4 1034.0L221.7 1032.1L222.0 1030.1L222.3 1028.1L222.6 1026.1L222.9 1024.1L223.2 1022.2L223.5 1020.2L223.8 1018.2L224.1 1016.2L224.4 1014.2L224.7 1012.3L225.0 1010.3L225.3 1008.3L225.6 1006.3L225.9 1004.3L226.2 1002.4L226.5 1000.4L226.7 998.4L227.0 996.4L227.3 994.4L227.6 992.5L227.9 990.5L228.2 988.5L228.5 986.5L228.8 984.5L229.1 982.6L229.4 980.6L229.7 978.6L230.0 976.6L230.3 974.6L230.6 972.7L230.9 970.7L231.2 968.7L231.5 966.7L231.8 964.8L232.1 962.8L232.4 960.8L232.7 958.8L233.0 956.8L233.3 954.9L233.6 952.9L233.9 950.9L234.2 948.9L234.5 946.9L234.8 945.0L235.1 943.0L235.4 941.0L235.8 939.0L236.1 937.1L236.4 935.1L236.7 933.1L237.0 931.1L237.3 929.1L237.6 927.2L237.9 925.2L238.2 923.2L238.5 921.2L238.8 919.3L239.1 917.3L239.4 915.3L239.7 913.3L240.0 911.3L240.3 909.4L240.7 907.4L241.0 905.4L241.3 903.4L241.6 901.5L241.9 899.5L242.2 897.5L242.5 895.5L242.8 893.5L243.1 891.6L243.5 889.6L243.8 887.6L244.1 885.6L244.4 883.7L244.7 881.7L245.0 879.7L245.3 877.7L245.7 875.8L246.0 873.8L246.3 871.8L246.6 869.8L246.9 867.9L247.2 865.9L247.6 863.9L247.9 861.9L248.2 859.9L248.5 858.0L248.8 856.0L249.1 854.0L249.5 852.0L249.8 850.1L250.1 848.1L250.4 846.1L250.8 844.1L251.1 842.2L251.4 840.2L251.7 838.2L252.1 836.2L252.4 834.3L252.7 832.3L253.0 830.3L253.4 828.4L253.7 826.4L254.0 824.4L254.3 822.4L254.7 820.5L255.0 818.5L255.3 816.5L255.7 814.5L256.0 812.6L256.3 810.6L256.7 808.6L257.0 806.6L257.3 804.7L257.7 802.7L258.0 800.7L258.3 798.7L258.7 796.8L259.0 794.8L259.3 792.8L259.7 790.9L260.0 788.9L260.4 786.9L260.7 784.9L261.0 783.0L261.4 781.0L261.7 779.0L262.1 777.1L262.4 775.1L262.7 773.1L263.1 771.1L263.4 769.2L263.8 767.2L264.1 765.2L264.5 763.3L264.8 761.3L265.2 759.3L265.5 757.3L265.9 755.4L266.2 753.4L266.6 751.4L266.9 749.5L267.3 747.5L267.6 745.5L268.0 743.6L268.3 741.6L268.7 739.6L269.1 737.7L269.4 735.7L269.8 733.7L270.1 731.8L270.5 729.8L270.8 727.8L271.2 725.8L271.6 723.9L271.9 721.9L272.3 719.9L272.7 718.0L273.0 716.0L273.4 714.0L273.8 712.1L274.1 710.1L274.5 708.1L274.9 706.2L275.2 704.2L275.6 702.2L276.0 700.3L276.3 698.3L276.7 696.3L277.1 694.4L277.5 692.4L277.8 690.4L278.2 688.5L278.6 686.5L279.0 684.6L279.4 682.6L279.7 680.6L280.1 678.7L280.5 676.7L280.9 674.7L281.3 672.8L281.7 670.8L282.0 668.8L282.4 666.9L282.8 664.9L283.2 663.0L283.6 661.0L284.0 659.0L284.4 657.1L284.8 655.1L285.2 653.1L285.5 651.2L285.9 649.2L286.3 647.3L286.7 645.3L287.1 643.3L287.5 641.4L287.9 639.4L288.3 637.5L288.7 635.5L289.1 633.5L289.5 631.6L289.9 629.6L290.3 627.7L290.8 625.7L291.2 623.7L291.6 621.8L292.0 619.8L292.4 617.9L292.8 615.9L293.2 613.9L293.6 612.0L294.0 610.0L294.5 608.1L294.9 606.1L295.3 604.2L295.7 602.2L296.1 600.2L296.5 598.3L297.0 596.3L297.4 594.4L297.8 592.4L298.2 590.5L298.7 588.5L299.1 586.5L299.5 584.6L299.9 582.6L300.4 580.7L300.8 578.7L301.2 576.8L301.7 574.8L302.1 572.9L302.5 570.9L303.0 569.0L303.4 567.0L303.9 565.1L304.3 563.1L304.7 561.2L305.2 559.2L305.6 557.3L306.1 555.3L306.5 553.3L307.0 551.4L307.4 549.4L307.9 547.5L308.3 545.5L308.8 543.6L309.2 541.6L309.7 539.7L310.1 537.7L310.6 535.8L311.0 533.9L311.5 531.9L312.0 530.0L312.4 528.0L312.9 526.1L313.3 524.1L313.8 522.2L314.3 520.2L314.7 518.3L315.2 516.3L315.7 514.4L316.2 512.4L316.6 510.5L317.1 508.5L317.6 506.6L318.0 504.7L318.5 502.7L319.0 500.8L319.5 498.8L320.0 496.9L320.4 494.9L320.9 493.0L321.4 491.1L321.9 489.1L322.4 487.2L322.9 485.2L323.4 483.3L323.9 481.3L324.3 479.4L324.8 477.5L325.3 475.5L325.8 473.6L326.3 471.7L326.8 469.7L327.3 467.8L327.8 465.8L328.3 463.9L328.8 462.0L329.3 460.0L329.8 458.1L330.4 456.1L330.9 454.2L331.4 452.3L331.9 450.3L332.4 448.4L332.9 446.5L333.4 444.5L334.0 442.6L334.5 440.7L335.0 438.7L335.5 436.8L336.1 434.9L336.6 432.9L337.1 431.0L337.6 429.1L338.2 427.2L338.7 425.2L339.3 423.3L339.8 421.4L340.3 419.4L340.9 417.5L341.4 415.6L342.0 413.7L342.5 411.7L343.1 409.8L343.6 407.9L344.2 406.0L344.8 404.1L345.3 402.1L345.9 400.2L346.5 398.3L347.0 396.4L347.6 394.5L348.2 392.6L348.8 390.6L349.3 388.7L349.9 386.8L350.5 384.9L351.1 383.0L351.7 381.1L352.3 379.2L352.9 377.3L353.5 375.4L354.1 373.5L354.7 371.6L355.3 369.6L355.9 367.7L356.6 365.8L357.2 363.9L357.8 362.0L358.4 360.2L359.1 358.3L359.7 356.4L360.3 354.5L361.0 352.6L361.6 350.7L362.3 348.8L362.9 346.9L363.6 345.0L364.2 343.1L364.9 341.3L365.6 339.4L366.2 337.5L366.9 335.6L367.6 333.7L368.3 331.9L368.9 330.0L369.6 328.1L370.3 326.2L371.0 324.4L371.7 322.5L372.4 320.6L373.1 318.8L373.9 316.9L374.6 315.0L375.3 313.2L376.0 311.3L376.8 309.4L377.5 307.6L378.2 305.7L379.0 303.9L379.7 302.0L380.5 300.2L381.2 298.3L382.0 296.5L382.7 294.6L383.5 292.8L384.2 290.9L385.0 289.1L385.8 287.2L386.5 285.4L387.3 283.5L388.1 281.7L388.9 279.9L389.6 278.0L390.4 276.2L391.2 274.3L392.0 272.5L392.8 270.7L393.6 268.8L394.3 267.0L395.1 265.2L395.9 263.3L396.7 261.5L397.5 259.7L398.3 257.8L399.1 256.0L399.9 254.2L400.7 252.3L401.5 250.5L402.4 248.7L403.2 246.8L404.0 245.0L404.8 243.2L405.6 241.4L406.5 239.6L407.3 237.7L408.2 235.9L409.0 234.1L409.8 232.3L410.7 230.5L411.6 228.7L412.4 226.9L413.3 225.1L414.2 223.3L415.0 221.5L415.9 219.7L416.8 217.9L417.7 216.1L418.6 214.3L419.5 212.5L420.5 210.7L421.4 208.9L422.3 207.2L423.3 205.4L424.2 203.6L425.1 201.9L426.1 200.1L427.1 198.3L428.1 196.6L429.0 194.8L430.0 193.1L431.0 191.4L432.0 189.6L433.1 187.9L434.1 186.2L435.1 184.5L436.2 182.8L437.2 181.1L438.3 179.4L439.4 177.7L440.5 176.0L441.5 174.3L442.6 172.6L443.8 171.0L444.9 169.3L446.0 167.7L447.2 166.0L448.3 164.4L449.5 162.8L450.7 161.2L451.9 159.5L453.1 157.9L454.3 156.4L455.5 154.8L456.7 153.2L458.0 151.6L459.3 150.1L460.5 148.5L461.8 147.0L463.1 145.5L464.4 143.9L465.8 142.4L467.1 140.9L468.4 139.4L469.8 138.0L471.2 136.5L472.6 135.0L474.0 133.6L475.4 132.2L476.8 130.7L478.2 129.3L479.6 127.9L481.1 126.5L482.6 125.2L484.0 123.8L485.5 122.5L487.0 121.1L488.5 119.8L490.0 118.5L491.5 117.2L493.1 115.9L494.6 114.6L496.2 113.3L497.7 112.1L499.3 110.9L500.9 109.6L502.5 108.4L504.1 107.2L505.7 106.0L507.3 104.9L509.0 103.7L510.6 102.6L512.3 101.5L513.9 100.4L515.6 99.3L517.3 98.2L519.0 97.1L520.7 96.1L522.4 95.1L524.1 94.0L525.8 93.0L527.5 92.1L529.3 91.1L531.0 90.1L532.8 89.2L534.5 88.3L536.3 87.4L538.1 86.5L539.8 85.6L541.6 84.8L543.4 84.0L545.2 83.1L547.1 82.3L548.9 81.6L550.7 80.8L552.5 80.0L554.4 79.3L556.2 78.6L558.1 77.9L559.9 77.2L561.8 76.5L563.7 75.9L565.6 75.2L567.5 74.6L569.3 74.0L571.2 73.4L573.1 72.8L575.0 72.2L577.0 71.6L578.9 71.1L580.8 70.6L582.7 70.0L584.6 69.5L586.6 69.0L588.5 68.5L590.5 68.1L592.4 67.6L594.4 67.2L596.3 66.7L598.3 66.3L600.2 65.9L602.2 65.5L604.2 65.1L606.2 64.7L608.1 64.3L610.1 63.9L612.1 63.6L614.1 63.2L616.1 62.9L618.0 62.5L620.0 62.2L622.0 61.9L624.0 61.6L626.0 61.3L628.0 61.0L630.0 60.7L632.0 60.5L634.0 60.2L636.0 59.9L638.1 59.7L640.1 59.4L642.1 59.2L644.1 59.0L646.1 58.8L648.1 58.5L650.1 58.3L652.1 58.1L654.1 57.9L656.1 57.7L658.2 57.5L660.2 57.3L662.2 57.1L664.2 57.0L666.2 56.8L668.2 56.6L670.2 56.4L672.2 56.3L674.2 56.1L676.2 56.0L678.2 55.8L680.3 55.7L682.3 55.5L684.3 55.4L686.3 55.2L688.3 55.1L690.3 55.0L692.3 54.8L694.3 54.7L696.3 54.6L698.3 54.5L700.3 54.3L702.3 54.2L704.2 54.1L706.2 54.0L708.2 53.9L710.2 53.8L712.2 53.7L714.2 53.6L716.2 53.5L718.2 53.4L720.2 53.3L722.2 53.2L724.2 53.2L726.2 53.1L728.2 53.0L730.2 52.9L732.1 52.8L734.1 52.8L736.1 52.7L738.1 52.6L740.1 52.6L742.1 52.5L744.1 52.5L746.1 52.4L748.1 52.3L750.0 52.3L752.0 52.2L754.0 52.2L756.0 52.1L758.0 52.1L760.0 52.0L762.0 52.0L764.0 52.0L765.9 51.9L767.9 51.9L769.9 51.8L771.9 51.8L773.9 51.8L775.9 51.7L777.9 51.7L779.9 51.7L781.8 51.7L783.8 51.6L785.8 51.6L787.8 51.6L789.8 51.6L791.8 51.5L793.8 51.5L795.8 51.5L797.8 51.5L799.7 51.5L801.7 51.5L803.7 51.4L805.7 51.4L807.7 51.4L809.7 51.4L811.7 51.4L813.7 51.4L815.7 51.4L817.7 51.4L819.7 51.3L821.7 51.3L823.7 51.3L825.6 51.3L827.6 51.3L829.6 51.3L831.6 51.3L833.6 51.3L835.6 51.3L837.6 51.3L839.6 51.3L841.6 51.3L843.6 51.3L845.6 51.3L847.6 51.3L849.6 51.3L851.6 51.2L853.6 51.2L855.7 51.2L857.7 51.2L859.7 51.2L861.7 51.2L863.7 51.2L865.7 51.2L867.7 51.2L869.7 51.2L871.7 51.2L873.7 51.2L875.7 51.2L877.8 51.2L879.8 51.1L881.8 51.1L883.8 51.1L885.8 51.1L887.9 51.1L889.9 51.1L891.9 51.1L893.9 51.1L895.9 51.0L898.0 51.0L900.0 51.0L1709.0 51.0"/>
<path stroke-width="6.2" d="M204.0 1150.8L204.4 1148.9L204.9 1146.9L205.3 1145.0L205.8 1143.0L206.2 1141.1L206.7 1139.1L207.1 1137.2L207.6 1135.2L208.0 1133.3L208.5 1131.3L208.9 1129.4L209.3 1127.4L209.8 1125.4L210.2 1123.5L210.7 1121.5L211.1 1119.6L211.5 1117.6L212.0 1115.7L212.4 1113.7L212.8 1111.8L213.3 1109.8L213.7 1107.9L214.2 1105.9L214.6 1104.0L215.0 1102.0L215.5 1100.1L215.9 1098.1L216.3 1096.2L216.8 1094.2L217.2 1092.3L217.6 1090.3L218.0 1088.4L218.5 1086.4L218.9 1084.4L219.3 1082.5L219.8 1080.5L220.2 1078.6L220.6 1076.6L221.0 1074.7L221.5 1072.7L221.9 1070.8L222.3 1068.8L222.8 1066.9L223.2 1064.9L223.6 1062.9L224.0 1061.0L224.4 1059.0L224.9 1057.1L225.3 1055.1L225.7 1053.2L226.1 1051.2L226.6 1049.2L227.0 1047.3L227.4 1045.3L227.8 1043.4L228.2 1041.4L228.7 1039.5L229.1 1037.5L229.5 1035.6L229.9 1033.6L230.3 1031.6L230.8 1029.7L231.2 1027.7L231.6 1025.8L232.0 1023.8L232.4 1021.9L232.8 1019.9L233.3 1017.9L233.7 1016.0L234.1 1014.0L234.5 1012.1L234.9 1010.1L235.3 1008.1L235.8 1006.2L236.2 1004.2L236.6 1002.3L237.0 1000.3L237.4 998.4L237.8 996.4L238.2 994.4L238.6 992.5L239.1 990.5L239.5 988.6L239.9 986.6L240.3 984.6L240.7 982.7L241.1 980.7L241.5 978.8L241.9 976.8L242.3 974.8L242.8 972.9L243.2 970.9L243.6 969.0L244.0 967.0L244.4 965.1L244.8 963.1L245.2 961.1L245.6 959.2L246.0 957.2L246.4 955.3L246.9 953.3L247.3 951.3L247.7 949.4L248.1 947.4L248.5 945.5L248.9 943.5L249.3 941.5L249.7 939.6L250.1 937.6L250.5 935.7L250.9 933.7L251.3 931.7L251.7 929.8L252.2 927.8L252.6 925.9L253.0 923.9L253.4 921.9L253.8 920.0L254.2 918.0L254.6 916.0L255.0 914.1L255.4 912.1L255.8 910.2L256.2 908.2L256.6 906.2L257.0 904.3L257.4 902.3L257.8 900.4L258.3 898.4L258.7 896.4L259.1 894.5L259.5 892.5L259.9 890.6L260.3 888.6L260.7 886.6L261.1 884.7L261.5 882.7L261.9 880.8L262.3 878.8L262.7 876.8L263.1 874.9L263.5 872.9L263.9 871.0L264.4 869.0L264.8 867.0L265.2 865.1L265.6 863.1L266.0 861.2L266.4 859.2L266.8 857.2L267.2 855.3L267.6 853.3L268.0 851.4L268.4 849.4L268.8 847.4L269.2 845.5L269.7 843.5L270.1 841.6L270.5 839.6L270.9 837.6L271.3 835.7L271.7 833.7L272.1 831.8L272.5 829.8L272.9 827.8L273.3 825.9L273.8 823.9L274.2 822.0L274.6 820.0L275.0 818.0L275.4 816.1L275.8 814.1L276.2 812.2L276.6 810.2L277.0 808.2L277.5 806.3L277.9 804.3L278.3 802.4L278.7 800.4L279.1 798.4L279.5 796.5L279.9 794.5L280.3 792.6L280.8 790.6L281.2 788.7L281.6 786.7L282.0 784.7L282.4 782.8L282.8 780.8L283.3 778.9L283.7 776.9L284.1 774.9L284.5 773.0L284.9 771.0L285.3 769.1L285.8 767.1L286.2 765.2L286.6 763.2L287.0 761.2L287.4 759.3L287.8 757.3L288.3 755.4L288.7 753.4L289.1 751.5L289.5 749.5L290.0 747.5L290.4 745.6L290.8 743.6L291.2 741.7L291.6 739.7L292.1 737.8L292.5 735.8L292.9 733.8L293.3 731.9L293.8 729.9L294.2 728.0L294.6 726.0L295.0 724.1L295.5 722.1L295.9 720.2L296.3 718.2L296.8 716.2L297.2 714.3L297.6 712.3L298.0 710.4L298.5 708.4L298.9 706.5L299.3 704.5L299.8 702.6L300.2 700.6L300.6 698.7L301.1 696.7L301.5 694.7L301.9 692.8L302.4 690.8L302.8 688.9L303.2 686.9L303.7 685.0L304.1 683.0L304.5 681.1L305.0 679.1L305.4 677.2L305.9 675.2L306.3 673.3L306.7 671.3L307.2 669.4L307.6 667.4L308.1 665.5L308.5 663.5L309.0 661.6L309.4 659.6L309.8 657.7L310.3 655.7L310.7 653.8L311.2 651.8L311.6 649.8L312.1 647.9L312.5 645.9L313.0 644.0L313.4 642.0L313.9 640.1L314.3 638.2L314.8 636.2L315.2 634.3L315.7 632.3L316.1 630.4L316.6 628.4L317.0 626.5L317.5 624.5L318.0 622.6L318.4 620.6L318.9 618.7L319.3 616.7L319.8 614.8L320.3 612.8L320.7 610.9L321.2 608.9L321.6 607.0L322.1 605.0L322.6 603.1L323.0 601.1L323.5 599.2L324.0 597.3L324.4 595.3L324.9 593.4L325.4 591.4L325.8 589.5L326.3 587.5L326.8 585.6L327.2 583.6L327.7 581.7L328.2 579.8L328.7 577.8L329.1 575.9L329.6 573.9L330.1 572.0L330.6 570.0L331.1 568.1L331.5 566.2L332.0 564.2L332.5 562.3L333.0 560.3L333.5 558.4L333.9 556.4L334.4 554.5L334.9 552.6L335.4 550.6L335.9 548.7L336.4 546.7L336.9 544.8L337.4 542.9L337.8 540.9L338.3 539.0L338.8 537.1L339.3 535.1L339.8 533.2L340.3 531.2L340.8 529.3L341.3 527.4L341.8 525.4L342.3 523.5L342.8 521.6L343.3 519.6L343.8 517.7L344.3 515.7L344.8 513.8L345.3 511.9L345.8 509.9L346.3 508.0L346.8 506.1L347.4 504.1L347.9 502.2L348.4 500.3L348.9 498.3L349.4 496.4L349.9 494.5L350.4 492.5L351.0 490.6L351.5 488.7L352.0 486.7L352.5 484.8L353.0 482.9L353.6 480.9L354.1 479.0L354.6 477.1L355.1 475.2L355.7 473.2L356.2 471.3L356.7 469.4L357.2 467.4L357.8 465.5L358.3 463.6L358.8 461.6L359.4 459.7L359.9 457.8L360.4 455.9L361.0 453.9L361.5 452.0L362.1 450.1L362.6 448.2L363.1 446.2L363.7 444.3L364.2 442.4L364.8 440.5L365.3 438.5L365.9 436.6L366.4 434.7L367.0 432.8L367.5 430.8L368.1 428.9L368.6 427.0L369.2 425.1L369.7 423.1L370.3 421.2L370.9 419.3L371.4 417.4L372.0 415.5L372.5 413.5L373.1 411.6L373.7 409.7L374.2 407.8L374.8 405.9L375.4 403.9L375.9 402.0L376.5 400.1L377.1 398.2L377.7 396.3L378.2 394.4L378.8 392.4L379.4 390.5L380.0 388.6L380.6 386.7L381.1 384.8L381.7 382.9L382.3 380.9L382.9 379.0L383.5 377.1L384.1 375.2L384.7 373.3L385.3 371.4L385.8 369.5L386.4 367.5L387.0 365.6L387.6 363.7L388.2 361.8L388.8 359.9L389.4 358.0L390.0 356.1L390.6 354.2L391.3 352.3L391.9 350.3L392.5 348.4L393.1 346.5L393.7 344.6L394.3 342.7L394.9 340.8L395.5 338.9L396.1 337.0L396.8 335.1L397.4 333.2L398.0 331.3L398.6 329.4L399.3 327.5L399.9 325.6L400.5 323.7L401.1 321.8L401.8 319.9L402.4 318.0L403.0 316.0L403.7 314.1L404.3 312.2L404.9 310.3L405.6 308.4L406.2 306.5L406.9 304.6L407.5 302.7L408.2 300.9L408.8 299.0L409.5 297.1L410.1 295.2L410.8 293.3L411.4 291.4L412.1 289.5L412.8 287.6L413.4 285.7L414.1 283.8L414.8 281.9L415.4 280.0L416.1 278.1L416.8 276.3L417.5 274.4L418.1 272.5L418.8 270.6L419.5 268.7L420.2 266.9L420.9 265.0L421.6 263.1L422.3 261.2L423.0 259.4L423.7 257.5L424.4 255.6L425.1 253.8L425.8 251.9L426.6 250.0L427.3 248.2L428.0 246.3L428.7 244.4L429.5 242.6L430.2 240.7L430.9 238.9L431.7 237.0L432.4 235.2L433.2 233.3L433.9 231.5L434.7 229.7L435.5 227.8L436.2 226.0L437.0 224.1L437.8 222.3L438.6 220.5L439.3 218.6L440.1 216.8L440.9 215.0L441.7 213.2L442.5 211.4L443.3 209.5L444.1 207.7L444.9 205.9L445.8 204.1L446.6 202.3L447.4 200.5L448.3 198.7L449.1 196.9L450.0 195.1L450.8 193.3L451.7 191.5L452.5 189.8L453.4 188.0L454.3 186.2L455.2 184.4L456.1 182.6L457.0 180.9L457.9 179.1L458.8 177.3L459.8 175.6L460.7 173.8L461.6 172.0L462.6 170.3L463.6 168.5L464.5 166.8L465.5 165.0L466.5 163.3L467.5 161.6L468.5 159.8L469.5 158.1L470.5 156.4L471.6 154.6L472.6 152.9L473.7 151.2L474.8 149.5L475.8 147.7L476.9 146.0L478.0 144.3L479.1 142.6L480.2 140.9L481.4 139.2L482.5 137.6L483.7 135.9L484.8 134.2L486.0 132.5L487.2 130.9L488.4 129.3L489.6 127.6L490.8 126.0L492.1 124.4L493.3 122.8L494.6 121.2L495.9 119.6L497.1 118.0L498.4 116.5L499.7 114.9L501.1 113.4L502.4 111.9L503.8 110.4L505.1 108.9L506.5 107.4L507.9 106.0L509.3 104.6L510.7 103.1L512.1 101.7L513.6 100.4L515.0 99.0L516.5 97.6L518.0 96.3L519.5 95.0L521.0 93.7L522.5 92.5L524.1 91.2L525.7 90.0L527.2 88.8L528.8 87.6L530.4 86.5L532.0 85.4L533.7 84.3L535.3 83.2L537.0 82.1L538.7 81.1L540.4 80.1L542.1 79.1L543.8 78.1L545.5 77.2L547.3 76.3L549.0 75.4L550.8 74.5L552.6 73.7L554.4 72.8L556.2 72.0L558.0 71.2L559.8 70.5L561.7 69.7L563.5 69.0L565.4 68.3L567.3 67.6L569.1 66.9L571.0 66.3L572.9 65.6L574.8 65.0L576.7 64.4L578.6 63.8L580.6 63.3L582.5 62.7L584.4 62.2L586.4 61.7L588.3 61.2L590.3 60.7L592.2 60.2L594.2 59.8L596.1 59.3L598.1 58.9L600.1 58.5L602.1 58.1L604.1 57.8L606.0 57.4L608.0 57.0L610.0 56.7L612.0 56.4L614.0 56.1L616.0 55.8L618.0 55.5L620.0 55.2L622.0 54.9L624.0 54.7L626.0 54.4L628.0 54.2L630.0 54.0L632.0 53.8L634.0 53.6L636.0 53.4L638.0 53.2L639.9 53.1L641.9 52.9L643.9 52.7L645.9 52.6L647.9 52.5L649.9 52.3L651.9 52.2L653.9 52.1L655.9 52.0L657.9 51.9L659.9 51.8L661.9 51.8L663.9 51.7L665.9 51.6L667.9 51.6L669.9 51.5L671.9 51.5L673.9 51.4L675.9 51.4L677.9 51.4L679.9 51.3L681.9 51.3L683.9 51.3L685.9 51.3L687.9 51.3L689.9 51.3L691.9 51.3L693.9 51.3L695.9 51.3L697.9 51.3L700.0 51.3L702.0 51.4L704.0 51.4L706.0 51.4L708.0 51.4L710.0 51.4L712.0 51.5L714.0 51.5L716.0 51.5L718.0 51.6L720.0 51.6L722.0 51.6L724.0 51.7L726.0 51.7L728.0 51.7L730.0 51.8L732.0 51.8L734.0 51.8L736.0 51.9L738.0 51.9L740.0 51.9L742.0 52.0L744.0 52.0L746.0 52.0L748.0 52.0L750.0 52.0L752.0 52.1L754.0 52.1L756.0 52.1L758.0 52.1L760.0 52.1L762.0 52.1L764.0 52.1L766.0 52.1L768.0 52.0L770.0 52.0L772.0 52.0L774.0 52.0L776.0 51.9L778.0 51.9L780.0 51.8L782.0 51.8L784.0 51.7L786.0 51.7L788.0 51.6L790.0 51.5L792.0 51.4L794.0 51.3L796.0 51.2L798.0 51.1L800.0 51.0L1709.0 51.0"/>
</g>
<defs><clipPath id="c1" clipPathUnits="userSpaceOnUse"><path d="M2.91 -33.53H15.83V0H11.27V-4.02H2.91Z"/></clipPath></defs>
<g class="tk">
<text transform="translate(183.70 187.80) scale(1 1.035)" text-anchor="end">0.8</text>
<text transform="translate(183.70 306.70) scale(1 1.035)" text-anchor="end">0.6</text>
<text transform="translate(183.70 425.60) scale(1 1.035)" text-anchor="end">0.4</text>
<text transform="translate(183.70 544.50) scale(1 1.035)" text-anchor="end">0.2</text>
<text transform="translate(183.70 663.40) scale(1 1.035)" text-anchor="end">0</text>
<text transform="translate(183.70 782.30) scale(1 1.035)" text-anchor="end">-0.2</text>
<text transform="translate(183.70 901.20) scale(1 1.035)" text-anchor="end">-0.4</text>
<text transform="translate(183.70 1020.10) scale(1 1.035)" text-anchor="end">-0.6</text>
<text transform="translate(183.70 1139.00) scale(1 1.035)" text-anchor="end">-0.8</text>
<text clip-path="url(#c1)" transform="translate(157.27 68.80) scale(1.1143 1.0226)" style="stroke-width:0.5px">1</text>
<text clip-path="url(#c1)" transform="translate(159.54 1257.50) scale(1.0972 1.0447)" style="stroke-width:0.5px">1</text>
<text transform="translate(151.45 1257.50) scale(1 1.035)" text-anchor="middle">-</text>
<text transform="translate(202.80 1306.40) scale(1 1.035)" text-anchor="middle">0</text>
<text transform="translate(704.47 1306.40) scale(1 1.035)" text-anchor="middle">5</text>
<text clip-path="url(#c1)" transform="translate(1180.54 1305.60) scale(1.0972 1.0163)" style="stroke-width:0.5px">1</text>
<text transform="translate(1218.95 1306.40) scale(1 1.035)" text-anchor="middle">0</text>
<text clip-path="url(#c1)" transform="translate(1682.61 1305.60) scale(1.0800 1.0163)" style="stroke-width:0.5px">1</text>
<text transform="translate(1721.00 1306.40) scale(1 1.035)" text-anchor="middle">5</text>
</g>
<text transform="translate(942.65 1377.09) scale(1.2078 1.0225)" style="font-family:'Liberation Serif',serif;font-style:italic;font-size:50px;fill:#262626;">η</text>
<text transform="translate(77.70 692.17) rotate(-90) scale(1.1244 0.9927)" style="font-family:'Liberation Sans',sans-serif;font-size:50.4px;fill:#262626;stroke:#262626;stroke-width:0.6;">f</text>
<text transform="translate(72.36 676.27) rotate(-90) scale(0.7123 0.7893)" style="font-family:'Liberation Sans',sans-serif;font-size:50.4px;fill:#262626;stroke:#262626;stroke-width:2.2;">`</text>
<text transform="translate(78.21 659.71) rotate(-90) scale(0.8164 1.0052)" style="font-family:'Liberation Sans',sans-serif;font-size:50.4px;fill:#262626;stroke:#262626;stroke-width:0.6;">(</text>
<text transform="translate(79.88 643.89) rotate(-90) scale(1.1744 1.0138)" style="font-family:'Liberation Serif',serif;font-style:italic;font-size:50px;fill:#262626;">η</text>
<text transform="translate(78.21 614.70) rotate(-90) scale(0.8523 1.0052)" style="font-family:'Liberation Sans',sans-serif;font-size:50.4px;fill:#262626;stroke:#262626;stroke-width:0.6;">)</text>
<text transform="translate(725.57 170.30) scale(0.9067 0.9961)" style="font-family:'Liberation Serif',serif;font-size:48px;fill:#000;stroke:#000;stroke-width:1.5;">ϒ</text>
<text transform="translate(773.44 174.99) scale(1.4461 1.0000)" style="font-family:'Liberation Serif',serif;font-size:48px;fill:#000;">=</text>
<text transform="translate(826.58 171.35) scale(0.9556 0.9747)" style="font-family:'Liberation Serif',serif;font-size:48px;fill:#000;stroke:#000;stroke-width:0.9;">0</text>
<text transform="translate(1009.67 180.13) scale(0.9011 1.0216)" style="font-family:'Liberation Serif',serif;font-size:48px;fill:#000;stroke:#000;stroke-width:1.5;">ϒ</text>
<text transform="translate(1058.44 184.84) scale(1.4058 1.0000)" style="font-family:'Liberation Serif',serif;font-size:48px;fill:#000;">=</text>
<text transform="translate(1110.31 180.79) scale(1.0067 0.9820)" style="font-family:'Liberation Serif',serif;font-size:48px;fill:#000;stroke:#000;stroke-width:0.9;">0.2</text>
<text transform="translate(1077.57 293.24) scale(0.8842 1.0156)" style="font-family:'Liberation Serif',serif;font-size:48px;fill:#000;stroke:#000;stroke-width:1.5;">ϒ</text>
<text transform="translate(1125.34 297.94) scale(1.4461 1.0000)" style="font-family:'Liberation Serif',serif;font-size:48px;fill:#000;">=</text>
<text transform="translate(1178.34 293.88) scale(0.9876 0.9880)" style="font-family:'Liberation Serif',serif;font-size:48px;fill:#000;stroke:#000;stroke-width:0.9;">0.4</text>
<rect x="1214.5" y="802.5" width="407" height="185" fill="none" stroke="#000" stroke-width="3" shape-rendering="crispEdges"/>
<text transform="translate(1237.15 848.64) scale(1.0232 1.0145)" style="font-family:'Liberation Serif',serif;font-size:48px;fill:#000;stroke:#000;stroke-width:0.9;">Nr</text>
<text transform="translate(1304.56 853.04) scale(1.3969 1.0000)" style="font-family:'Liberation Serif',serif;font-size:48px;fill:#000;">=</text>
<text transform="translate(1356.76 848.70) scale(0.9753 0.9701)" style="font-family:'Liberation Serif',serif;font-size:48px;fill:#000;stroke:#000;stroke-width:0.9;">0.1</text>
<text transform="translate(1238.19 904.15) scale(0.9782 0.9991)" style="font-family:'Liberation Serif',serif;font-size:48px;fill:#000;stroke:#000;stroke-width:0.9;">M</text>
<text transform="translate(1293.70 908.54) scale(1.4237 1.0000)" style="font-family:'Liberation Serif',serif;font-size:48px;fill:#000;">=</text>
<text transform="translate(1346.45 904.20) scale(0.9824 0.9701)" style="font-family:'Liberation Serif',serif;font-size:48px;fill:#000;stroke:#000;stroke-width:0.9;">0.1</text>
<text transform="translate(1237.32 960.02) scale(1.1759 0.9769)" style="font-family:'Liberation Serif',serif;font-style:italic;font-size:48px;fill:#000;">φ</text>
<text transform="translate(1267.77 966.46) scale(0.9169 0.9766)" style="font-family:'Liberation Serif',serif;font-size:34px;fill:#000;stroke:#000;stroke-width:0.9;">1</text>
<text transform="translate(1300.56 963.94) scale(1.3969 1.0000)" style="font-family:'Liberation Serif',serif;font-size:48px;fill:#000;">=</text>
<text transform="translate(1353.22 960.02) scale(1.1717 0.9769)" style="font-family:'Liberation Serif',serif;font-style:italic;font-size:48px;fill:#000;">φ</text>
<text transform="translate(1382.99 966.46) scale(0.9704 0.9739)" style="font-family:'Liberation Serif',serif;font-size:34px;fill:#000;stroke:#000;stroke-width:0.9;">2</text>
<text transform="translate(1415.45 963.94) scale(1.4416 1.0000)" style="font-family:'Liberation Serif',serif;font-size:48px;fill:#000;">=</text>
<text transform="translate(1468.96 959.60) scale(0.9715 0.9761)" style="font-family:'Liberation Serif',serif;font-size:48px;fill:#000;stroke:#000;stroke-width:0.9;">0.01</text>
<g fill="none" stroke="#000" stroke-width="3.2" shape-rendering="crispEdges">
<path d="M980 1060.5H1291"/>
<path stroke-dasharray="25 12" d="M988 1134.74L1297 1133.64"/>
</g>
<text class="lg" transform="translate(1317.6 1074.7) scale(1 1.03)">First Solution</text>
<text class="lg" transform="translate(1304.3 1144.2) scale(1 1.03)">Second Solution</text>
<path d="M386.8 509.3L284.5 447.8" fill="none" stroke="#000" stroke-width="3.4" shape-rendering="crispEdges"/>
<path d="M254.6 429.6L304.2 439.4L284.4 447.6L285.4 468.6Z" fill="#000" stroke="#000" stroke-width="1.6" stroke-linejoin="round"/>
</svg></body></html>
